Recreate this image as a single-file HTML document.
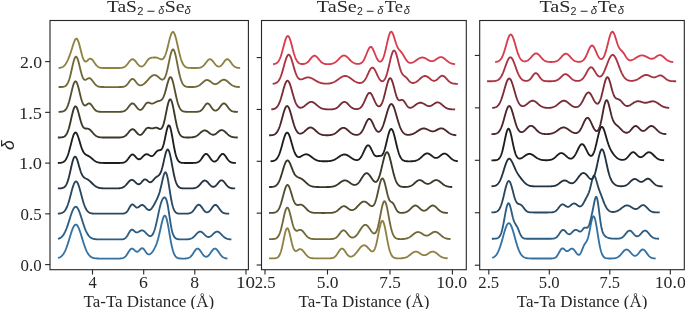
<!DOCTYPE html><html><head><meta charset="utf-8"><style>html,body{margin:0;padding:0;background:#fff;width:685px;height:309px;overflow:hidden}svg{display:block;will-change:transform}</style></head><body>
<svg width="685" height="309" viewBox="0 0 685 309">
<rect width="685" height="309" fill="#fff"/>
<path d="M59.00 257.71L59.50 257.50L60.00 257.25L60.50 256.96L61.00 256.61L61.50 256.20L62.00 255.72L62.50 255.17L63.00 254.54L63.50 253.82L64.00 253.02L64.50 252.12L65.00 251.12L65.50 250.03L66.00 248.83L66.50 247.55L67.00 246.17L67.50 244.72L68.00 243.19L68.50 241.60L69.00 239.98L69.50 238.32L70.00 236.67L70.50 235.03L71.00 233.43L71.50 231.90L72.00 230.45L72.50 229.12L73.00 227.93L73.50 226.89L74.00 226.03L74.50 225.36L75.00 224.90L75.50 224.65L76.00 224.62L76.50 224.81L77.00 225.21L77.50 225.82L78.00 226.63L78.50 227.62L79.00 228.77L79.50 230.07L80.00 231.48L80.50 232.99L81.00 234.58L81.50 236.21L82.00 237.86L82.50 239.51L83.00 241.15L83.50 242.75L84.00 244.29L84.50 245.77L85.00 247.17L85.50 248.48L86.00 249.70L86.50 250.82L87.00 251.85L87.50 252.77L88.00 253.61L88.50 254.35L89.00 255.00L89.50 255.57L90.00 256.07L90.50 256.50L91.00 256.86L91.50 257.18L92.00 257.44L92.50 257.66L93.00 257.84L93.50 257.99L94.00 258.11L94.50 258.21L95.00 258.29L95.50 258.36L96.00 258.41L96.50 258.45L97.00 258.48L97.50 258.51L98.00 258.53L98.50 258.54L99.00 258.55L99.50 258.56L100.00 258.57L100.50 258.57L101.00 258.58L101.50 258.58L102.00 258.58L102.50 258.58L103.00 258.58L103.50 258.58L104.00 258.58L104.50 258.58L105.00 258.58L105.50 258.58L106.00 258.58L106.50 258.58L107.00 258.58L107.50 258.58L108.00 258.58L108.50 258.58L109.00 258.58L109.50 258.58L110.00 258.58L110.50 258.58L111.00 258.58L111.50 258.58L112.00 258.58L112.50 258.58L113.00 258.58L113.50 258.58L114.00 258.58L114.50 258.58L115.00 258.58L115.50 258.58L116.00 258.58L116.50 258.58L117.00 258.58L117.50 258.58L118.00 258.58L118.50 258.57L119.00 258.56L119.50 258.55L120.00 258.52L120.50 258.49L121.00 258.45L121.50 258.38L122.00 258.30L122.50 258.18L123.00 258.02L123.50 257.81L124.00 257.54L124.50 257.21L125.00 256.80L125.50 256.32L126.00 255.76L126.50 255.11L127.00 254.41L127.50 253.64L128.00 252.84L128.50 252.04L129.00 251.25L129.50 250.51L130.00 249.86L130.50 249.32L131.00 248.92L131.50 248.68L132.00 248.59L132.50 248.67L133.00 248.90L133.50 249.24L134.00 249.68L134.50 250.16L135.00 250.64L135.50 251.08L136.00 251.43L136.50 251.67L137.00 251.77L137.50 251.71L138.00 251.49L138.50 251.14L139.00 250.68L139.50 250.16L140.00 249.61L140.50 249.10L141.00 248.67L141.50 248.36L142.00 248.22L142.50 248.25L143.00 248.47L143.50 248.87L144.00 249.40L144.50 250.06L145.00 250.78L145.50 251.52L146.00 252.24L146.50 252.90L147.00 253.46L147.50 253.91L148.00 254.23L148.50 254.41L149.00 254.45L149.50 254.35L150.00 254.14L150.50 253.82L151.00 253.39L151.50 252.88L152.00 252.30L152.50 251.64L153.00 250.92L153.50 250.14L154.00 249.30L154.50 248.39L155.00 247.40L155.50 246.32L156.00 245.15L156.50 243.86L157.00 242.45L157.50 240.90L158.00 239.21L158.50 237.36L159.00 235.38L159.50 233.27L160.00 231.05L160.50 228.78L161.00 226.48L161.50 224.24L162.00 222.11L162.50 220.16L163.00 218.48L163.50 217.12L164.00 216.16L164.50 215.65L165.00 215.62L165.50 216.08L166.00 217.05L166.50 218.48L167.00 220.35L167.50 222.59L168.00 225.14L168.50 227.90L169.00 230.80L169.50 233.76L170.00 236.69L170.50 239.54L171.00 242.23L171.50 244.74L172.00 247.01L172.50 249.04L173.00 250.82L173.50 252.36L174.00 253.66L174.50 254.74L175.00 255.62L175.50 256.33L176.00 256.90L176.50 257.34L177.00 257.67L177.50 257.93L178.00 258.12L178.50 258.26L179.00 258.36L179.50 258.43L180.00 258.48L180.50 258.52L181.00 258.54L181.50 258.55L182.00 258.56L182.50 258.57L183.00 258.57L183.50 258.57L184.00 258.56L184.50 258.55L185.00 258.54L185.50 258.51L186.00 258.48L186.50 258.43L187.00 258.36L187.50 258.26L188.00 258.13L188.50 257.97L189.00 257.75L189.50 257.48L190.00 257.15L190.50 256.75L191.00 256.27L191.50 255.72L192.00 255.10L192.50 254.41L193.00 253.67L193.50 252.90L194.00 252.12L194.50 251.35L195.00 250.62L195.50 249.97L196.00 249.42L196.50 248.99L197.00 248.72L197.50 248.60L198.00 248.66L198.50 248.87L199.00 249.24L199.50 249.75L200.00 250.36L200.50 251.06L201.00 251.81L201.50 252.58L202.00 253.34L202.50 254.06L203.00 254.72L203.50 255.31L204.00 255.81L204.50 256.21L205.00 256.50L205.50 256.69L206.00 256.76L206.50 256.72L207.00 256.58L207.50 256.33L208.00 255.98L208.50 255.53L209.00 255.00L209.50 254.40L210.00 253.73L210.50 253.02L211.00 252.29L211.50 251.57L212.00 250.87L212.50 250.22L213.00 249.66L213.50 249.20L214.00 248.86L214.50 248.66L215.00 248.60L215.50 248.70L216.00 248.94L216.50 249.32L217.00 249.82L217.50 250.41L218.00 251.08L218.50 251.79L219.00 252.53L219.50 253.27L220.00 253.99L220.50 254.67L221.00 255.30L221.50 255.87L222.00 256.38L222.50 256.81L223.00 257.19L223.50 257.50L224.00 257.75L224.50 257.96L225.00 258.12L225.50 258.24L226.00 258.34L226.50 258.41" fill="none" stroke="#3472a4" stroke-width="1.85" stroke-linejoin="round" stroke-linecap="square"/>
<path d="M58.80 238.60L59.30 238.41L59.80 238.17L60.30 237.90L60.80 237.57L61.30 237.18L61.80 236.73L62.30 236.21L62.80 235.62L63.30 234.95L63.80 234.19L64.30 233.34L64.80 232.40L65.30 231.37L65.80 230.24L66.30 229.03L66.80 227.72L67.30 226.34L67.80 224.89L68.30 223.38L68.80 221.83L69.30 220.25L69.80 218.66L70.30 217.08L70.80 215.54L71.30 214.06L71.80 212.66L72.30 211.36L72.80 210.18L73.30 209.15L73.80 208.29L74.30 207.60L74.80 207.11L75.30 206.83L75.80 206.75L76.30 206.87L76.80 207.21L77.30 207.75L77.80 208.48L78.30 209.38L78.80 210.45L79.30 211.65L79.80 212.98L80.30 214.40L80.80 215.90L81.30 217.45L81.80 219.03L82.30 220.62L82.80 222.20L83.30 223.74L83.80 225.24L84.30 226.67L84.80 228.04L85.30 229.32L85.80 230.52L86.30 231.62L86.80 232.63L87.30 233.55L87.80 234.38L88.30 235.12L88.80 235.77L89.30 236.34L89.80 236.84L90.30 237.28L90.80 237.65L91.30 237.97L91.80 238.23L92.30 238.46L92.80 238.65L93.30 238.80L93.80 238.93L94.30 239.03L94.80 239.12L95.30 239.18L95.80 239.24L96.30 239.28L96.80 239.31L97.30 239.34L97.80 239.36L98.30 239.38L98.80 239.39L99.30 239.40L99.80 239.40L100.30 239.41L100.80 239.41L101.30 239.41L101.80 239.42L102.30 239.42L102.80 239.42L103.30 239.42L103.80 239.42L104.30 239.42L104.80 239.42L105.30 239.42L105.80 239.42L106.30 239.42L106.80 239.42L107.30 239.42L107.80 239.42L108.30 239.42L108.80 239.42L109.30 239.42L109.80 239.42L110.30 239.42L110.80 239.42L111.30 239.42L111.80 239.42L112.30 239.42L112.80 239.42L113.30 239.42L113.80 239.42L114.30 239.42L114.80 239.42L115.30 239.42L115.80 239.42L116.30 239.42L116.80 239.42L117.30 239.42L117.80 239.42L118.30 239.42L118.80 239.42L119.30 239.42L119.80 239.41L120.30 239.41L120.80 239.40L121.30 239.38L121.80 239.35L122.30 239.30L122.80 239.23L123.30 239.13L123.80 238.99L124.30 238.79L124.80 238.52L125.30 238.17L125.80 237.72L126.30 237.18L126.80 236.53L127.30 235.78L127.80 234.95L128.30 234.07L128.80 233.17L129.30 232.29L129.80 231.48L130.30 230.78L130.80 230.23L131.30 229.86L131.80 229.69L132.30 229.70L132.80 229.87L133.30 230.19L133.80 230.59L134.30 231.03L134.80 231.47L135.30 231.85L135.80 232.15L136.30 232.34L136.80 232.42L137.30 232.38L137.80 232.24L138.30 232.02L138.80 231.74L139.30 231.43L139.80 231.12L140.30 230.85L140.80 230.62L141.30 230.46L141.80 230.38L142.30 230.39L142.80 230.50L143.30 230.71L143.80 231.00L144.30 231.37L144.80 231.81L145.30 232.30L145.80 232.82L146.30 233.36L146.80 233.90L147.30 234.42L147.80 234.90L148.30 235.32L148.80 235.67L149.30 235.94L149.80 236.10L150.30 236.14L150.80 236.06L151.30 235.83L151.80 235.44L152.30 234.88L152.80 234.14L153.30 233.21L153.80 232.09L154.30 230.76L154.80 229.23L155.30 227.51L155.80 225.60L156.30 223.53L156.80 221.33L157.30 219.02L157.80 216.65L158.30 214.26L158.80 211.90L159.30 209.62L159.80 207.46L160.30 205.47L160.80 203.68L161.30 202.11L161.80 200.77L162.30 199.65L162.80 198.76L163.30 198.08L163.80 197.62L164.30 197.39L164.80 197.42L165.30 197.75L165.80 198.45L166.30 199.57L166.80 201.15L167.30 203.20L167.80 205.71L168.30 208.60L168.80 211.78L169.30 215.12L169.80 218.48L170.30 221.74L170.80 224.78L171.30 227.52L171.80 229.91L172.30 231.94L172.80 233.61L173.30 234.97L173.80 236.03L174.30 236.87L174.80 237.51L175.30 238.00L175.80 238.37L176.30 238.64L176.80 238.85L177.30 239.01L177.80 239.12L178.30 239.21L178.80 239.27L179.30 239.32L179.80 239.35L180.30 239.37L180.80 239.39L181.30 239.40L181.80 239.41L182.30 239.41L182.80 239.41L183.30 239.41L183.80 239.41L184.30 239.41L184.80 239.41L185.30 239.40L185.80 239.39L186.30 239.38L186.80 239.36L187.30 239.33L187.80 239.29L188.30 239.24L188.80 239.18L189.30 239.09L189.80 238.98L190.30 238.84L190.80 238.67L191.30 238.47L191.80 238.22L192.30 237.93L192.80 237.59L193.30 237.20L193.80 236.77L194.30 236.30L194.80 235.79L195.30 235.26L195.80 234.71L196.30 234.16L196.80 233.63L197.30 233.13L197.80 232.67L198.30 232.28L198.80 231.97L199.30 231.75L199.80 231.62L200.30 231.60L200.80 231.68L201.30 231.87L201.80 232.14L202.30 232.49L202.80 232.91L203.30 233.38L203.80 233.88L204.30 234.39L204.80 234.89L205.30 235.37L205.80 235.80L206.30 236.19L206.80 236.51L207.30 236.75L207.80 236.92L208.30 237.00L208.80 236.99L209.30 236.91L209.80 236.74L210.30 236.49L210.80 236.17L211.30 235.80L211.80 235.37L212.30 234.91L212.80 234.42L213.30 233.93L213.80 233.45L214.30 232.99L214.80 232.58L215.30 232.22L215.80 231.94L216.30 231.74L216.80 231.63L217.30 231.61L217.80 231.69L218.30 231.87L218.80 232.13L219.30 232.47L219.80 232.87L220.30 233.33L220.80 233.82L221.30 234.34L221.80 234.87L222.30 235.39L222.80 235.90L223.30 236.38L223.80 236.83L224.30 237.24L224.80 237.61L225.30 237.93L225.80 238.21L226.30 238.45L226.80 238.65L227.30 238.82L227.80 238.96L228.30 239.07L228.80 239.16L229.30 239.22L229.80 239.28L230.30 239.32L230.50 239.33" fill="none" stroke="#2e5d82" stroke-width="1.85" stroke-linejoin="round" stroke-linecap="square"/>
<path d="M58.80 213.56L59.30 213.52L59.80 213.46L60.30 213.39L60.80 213.29L61.30 213.16L61.80 212.99L62.30 212.78L62.80 212.52L63.30 212.19L63.80 211.79L64.30 211.31L64.80 210.73L65.30 210.04L65.80 209.24L66.30 208.31L66.80 207.25L67.30 206.06L67.80 204.72L68.30 203.26L68.80 201.66L69.30 199.96L69.80 198.17L70.30 196.30L70.80 194.40L71.30 192.49L71.80 190.61L72.30 188.81L72.80 187.12L73.30 185.59L73.80 184.24L74.30 183.13L74.80 182.28L75.30 181.71L75.80 181.43L76.30 181.47L76.80 181.81L77.30 182.44L77.80 183.36L78.30 184.53L78.80 185.91L79.30 187.49L79.80 189.21L80.30 191.03L80.80 192.92L81.30 194.83L81.80 196.72L82.30 198.58L82.80 200.35L83.30 202.03L83.80 203.60L84.30 205.03L84.80 206.34L85.30 207.50L85.80 208.53L86.30 209.43L86.80 210.21L87.30 210.87L87.80 211.42L88.30 211.89L88.80 212.27L89.30 212.58L89.80 212.83L90.30 213.03L90.80 213.19L91.30 213.31L91.80 213.41L92.30 213.48L92.80 213.53L93.30 213.57L93.80 213.60L94.30 213.63L94.80 213.64L95.30 213.65L95.80 213.66L96.30 213.67L96.80 213.67L97.30 213.67L97.80 213.68L98.30 213.68L98.80 213.68L99.30 213.68L99.80 213.68L100.30 213.68L100.80 213.68L101.30 213.68L101.80 213.68L102.30 213.68L102.80 213.68L103.30 213.68L103.80 213.68L104.30 213.68L104.80 213.68L105.30 213.68L105.80 213.68L106.30 213.68L106.80 213.68L107.30 213.68L107.80 213.68L108.30 213.68L108.80 213.68L109.30 213.68L109.80 213.68L110.30 213.68L110.80 213.68L111.30 213.68L111.80 213.68L112.30 213.68L112.80 213.68L113.30 213.68L113.80 213.68L114.30 213.68L114.80 213.68L115.30 213.68L115.80 213.68L116.30 213.68L116.80 213.68L117.30 213.68L117.80 213.68L118.30 213.68L118.80 213.68L119.30 213.68L119.80 213.68L120.30 213.68L120.80 213.67L121.30 213.67L121.80 213.65L122.30 213.64L122.80 213.61L123.30 213.56L123.80 213.49L124.30 213.38L124.80 213.22L125.30 213.00L125.80 212.71L126.30 212.32L126.80 211.82L127.30 211.22L127.80 210.51L128.30 209.71L128.80 208.83L129.30 207.92L129.80 207.02L130.30 206.19L130.80 205.47L131.30 204.92L131.80 204.56L132.30 204.41L132.80 204.48L133.30 204.73L133.80 205.13L134.30 205.62L134.80 206.15L135.30 206.66L135.80 207.08L136.30 207.39L136.80 207.56L137.30 207.58L137.80 207.46L138.30 207.22L138.80 206.88L139.30 206.50L139.80 206.09L140.30 205.71L140.80 205.39L141.30 205.15L141.80 205.02L142.30 205.01L142.80 205.12L143.30 205.36L143.80 205.70L144.30 206.14L144.80 206.64L145.30 207.19L145.80 207.75L146.30 208.29L146.80 208.80L147.30 209.23L147.80 209.59L148.30 209.84L148.80 209.97L149.30 209.99L149.80 209.87L150.30 209.64L150.80 209.28L151.30 208.80L151.80 208.23L152.30 207.56L152.80 206.81L153.30 205.99L153.80 205.13L154.30 204.23L154.80 203.31L155.30 202.36L155.80 201.40L156.30 200.42L156.80 199.41L157.30 198.34L157.80 197.21L158.30 195.97L158.80 194.61L159.30 193.11L159.80 191.44L160.30 189.59L160.80 187.59L161.30 185.45L161.80 183.23L162.30 180.98L162.80 178.80L163.30 176.78L163.80 175.03L164.30 173.64L164.80 172.70L165.30 172.29L165.80 172.46L166.30 173.22L166.80 174.56L167.30 176.45L167.80 178.80L168.30 181.53L168.80 184.53L169.30 187.68L169.80 190.87L170.30 194.01L170.80 197.00L171.30 199.77L171.80 202.28L172.30 204.49L172.80 206.40L173.30 208.01L173.80 209.34L174.30 210.42L174.80 211.27L175.30 211.93L175.80 212.43L176.30 212.80L176.80 213.07L177.30 213.27L177.80 213.40L178.30 213.50L178.80 213.56L179.30 213.61L179.80 213.63L180.30 213.65L180.80 213.66L181.30 213.67L181.80 213.67L182.30 213.68L182.80 213.68L183.30 213.68L183.80 213.68L184.30 213.67L184.80 213.67L185.30 213.67L185.80 213.66L186.30 213.65L186.80 213.63L187.30 213.61L187.80 213.57L188.30 213.52L188.80 213.45L189.30 213.34L189.80 213.21L190.30 213.03L190.80 212.80L191.30 212.51L191.80 212.16L192.30 211.73L192.80 211.23L193.30 210.66L193.80 210.02L194.30 209.33L194.80 208.60L195.30 207.86L195.80 207.14L196.30 206.46L196.80 205.85L197.30 205.35L197.80 204.98L198.30 204.76L198.80 204.70L199.30 204.81L199.80 205.08L200.30 205.49L200.80 206.02L201.30 206.65L201.80 207.35L202.30 208.08L202.80 208.81L203.30 209.51L203.80 210.16L204.30 210.75L204.80 211.26L205.30 211.67L205.80 211.98L206.30 212.20L206.80 212.31L207.30 212.31L207.80 212.21L208.30 212.01L208.80 211.71L209.30 211.31L209.80 210.82L210.30 210.25L210.80 209.62L211.30 208.93L211.80 208.22L212.30 207.51L212.80 206.83L213.30 206.21L213.80 205.69L214.30 205.28L214.80 205.01L215.30 204.90L215.80 204.95L216.30 205.16L216.80 205.52L217.30 206.00L217.80 206.59L218.30 207.25L218.80 207.96L219.30 208.68L219.80 209.39L220.30 210.07L220.80 210.70L221.30 211.26L221.80 211.75L222.30 212.17L222.80 212.52L223.30 212.81L223.80 213.03L224.30 213.21L224.80 213.35L225.30 213.45L225.80 213.52L226.30 213.57L226.80 213.61L227.30 213.63L227.80 213.65L228.30 213.66" fill="none" stroke="#294861" stroke-width="1.85" stroke-linejoin="round" stroke-linecap="square"/>
<path d="M58.80 188.39L59.30 188.38L59.80 188.36L60.30 188.34L60.80 188.30L61.30 188.25L61.80 188.17L62.30 188.07L62.80 187.93L63.30 187.73L63.80 187.47L64.30 187.14L64.80 186.70L65.30 186.14L65.80 185.45L66.30 184.61L66.80 183.59L67.30 182.38L67.80 180.98L68.30 179.38L68.80 177.59L69.30 175.63L69.80 173.52L70.30 171.31L70.80 169.05L71.30 166.80L71.80 164.62L72.30 162.58L72.80 160.75L73.30 159.20L73.80 157.97L74.30 157.12L74.80 156.67L75.30 156.63L75.80 156.99L76.30 157.72L76.80 158.78L77.30 160.12L77.80 161.67L78.30 163.37L78.80 165.13L79.30 166.91L79.80 168.63L80.30 170.25L80.80 171.74L81.30 173.07L81.80 174.22L82.30 175.20L82.80 176.01L83.30 176.67L83.80 177.20L84.30 177.62L84.80 177.96L85.30 178.24L85.80 178.50L86.30 178.74L86.80 178.99L87.30 179.26L87.80 179.55L88.30 179.88L88.80 180.25L89.30 180.65L89.80 181.08L90.30 181.54L90.80 182.02L91.30 182.51L91.80 183.00L92.30 183.50L92.80 183.98L93.30 184.45L93.80 184.90L94.30 185.33L94.80 185.72L95.30 186.08L95.80 186.41L96.30 186.71L96.80 186.98L97.30 187.21L97.80 187.42L98.30 187.59L98.80 187.74L99.30 187.87L99.80 187.98L100.30 188.06L100.80 188.14L101.30 188.20L101.80 188.24L102.30 188.28L102.80 188.31L103.30 188.34L103.80 188.36L104.30 188.37L104.80 188.38L105.30 188.39L105.80 188.39L106.30 188.40L106.80 188.40L107.30 188.41L107.80 188.41L108.30 188.41L108.80 188.41L109.30 188.41L109.80 188.41L110.30 188.41L110.80 188.41L111.30 188.41L111.80 188.41L112.30 188.41L112.80 188.41L113.30 188.41L113.80 188.41L114.30 188.41L114.80 188.41L115.30 188.41L115.80 188.40L116.30 188.40L116.80 188.39L117.30 188.38L117.80 188.37L118.30 188.35L118.80 188.32L119.30 188.28L119.80 188.23L120.30 188.17L120.80 188.08L121.30 187.97L121.80 187.83L122.30 187.66L122.80 187.44L123.30 187.19L123.80 186.88L124.30 186.53L124.80 186.13L125.30 185.67L125.80 185.17L126.30 184.63L126.80 184.06L127.30 183.47L127.80 182.87L128.30 182.28L128.80 181.72L129.30 181.21L129.80 180.76L130.30 180.39L130.80 180.12L131.30 179.95L131.80 179.88L132.30 179.93L132.80 180.09L133.30 180.35L133.80 180.70L134.30 181.11L134.80 181.58L135.30 182.07L135.80 182.56L136.30 183.03L136.80 183.45L137.30 183.80L137.80 184.06L138.30 184.21L138.80 184.23L139.30 184.13L139.80 183.90L140.30 183.55L140.80 183.09L141.30 182.56L141.80 181.97L142.30 181.38L142.80 180.80L143.30 180.29L143.80 179.86L144.30 179.56L144.80 179.40L145.30 179.38L145.80 179.50L146.30 179.75L146.80 180.10L147.30 180.51L147.80 180.95L148.30 181.38L148.80 181.75L149.30 182.04L149.80 182.22L150.30 182.27L150.80 182.18L151.30 181.96L151.80 181.62L152.30 181.18L152.80 180.66L153.30 180.08L153.80 179.49L154.30 178.90L154.80 178.34L155.30 177.83L155.80 177.38L156.30 176.99L156.80 176.65L157.30 176.34L157.80 176.04L158.30 175.71L158.80 175.31L159.30 174.80L159.80 174.14L160.30 173.29L160.80 172.21L161.30 170.90L161.80 169.34L162.30 167.55L162.80 165.56L163.30 163.42L163.80 161.17L164.30 158.91L164.80 156.72L165.30 154.67L165.80 152.87L166.30 151.39L166.80 150.30L167.30 149.66L167.80 149.51L168.30 149.86L168.80 150.71L169.30 152.02L169.80 153.75L170.30 155.85L170.80 158.22L171.30 160.80L171.80 163.50L172.30 166.23L172.80 168.93L173.30 171.54L173.80 173.99L174.30 176.25L174.80 178.30L175.30 180.12L175.80 181.70L176.30 183.05L176.80 184.19L177.30 185.13L177.80 185.90L178.30 186.51L178.80 186.99L179.30 187.37L179.80 187.65L180.30 187.87L180.80 188.03L181.30 188.14L181.80 188.23L182.30 188.29L182.80 188.33L183.30 188.36L183.80 188.38L184.30 188.39L184.80 188.40L185.30 188.40L185.80 188.41L186.30 188.41L186.80 188.41L187.30 188.41L187.80 188.41L188.30 188.41L188.80 188.41L189.30 188.41L189.80 188.40L190.30 188.40L190.80 188.39L191.30 188.38L191.80 188.37L192.30 188.34L192.80 188.31L193.30 188.27L193.80 188.21L194.30 188.14L194.80 188.03L195.30 187.90L195.80 187.74L196.30 187.53L196.80 187.28L197.30 186.98L197.80 186.63L198.30 186.22L198.80 185.76L199.30 185.25L199.80 184.71L200.30 184.13L200.80 183.54L201.30 182.95L201.80 182.38L202.30 181.86L202.80 181.40L203.30 181.02L203.80 180.73L204.30 180.56L204.80 180.50L205.30 180.57L205.80 180.75L206.30 181.04L206.80 181.42L207.30 181.89L207.80 182.41L208.30 182.97L208.80 183.55L209.30 184.13L209.80 184.68L210.30 185.19L210.80 185.65L211.30 186.04L211.80 186.36L212.30 186.59L212.80 186.74L213.30 186.79L213.80 186.74L214.30 186.61L214.80 186.37L215.30 186.04L215.80 185.63L216.30 185.14L216.80 184.59L217.30 183.98L217.80 183.36L218.30 182.72L218.80 182.11L219.30 181.56L219.80 181.08L220.30 180.70L220.80 180.44L221.30 180.31L221.80 180.33L222.30 180.48L222.80 180.77L223.30 181.18L223.80 181.68L224.30 182.26L224.80 182.89L225.30 183.54L225.80 184.19L226.30 184.81L226.80 185.40L227.30 185.93L227.80 186.41L228.30 186.82L228.80 187.17L229.30 187.46L229.80 187.70L230.30 187.88L230.80 188.03L231.30 188.14L231.80 188.22L232.30 188.28L232.80 188.32L233.30 188.35L233.80 188.37L234.20 188.38" fill="none" stroke="#243340" stroke-width="1.85" stroke-linejoin="round" stroke-linecap="square"/>
<path d="M58.80 162.93L59.30 162.91L59.80 162.88L60.30 162.83L60.80 162.78L61.30 162.70L61.80 162.59L62.30 162.45L62.80 162.26L63.30 162.02L63.80 161.71L64.30 161.32L64.80 160.84L65.30 160.25L65.80 159.54L66.30 158.70L66.80 157.70L67.30 156.56L67.80 155.25L68.30 153.79L68.80 152.18L69.30 150.43L69.80 148.57L70.30 146.63L70.80 144.65L71.30 142.66L71.80 140.72L72.30 138.88L72.80 137.18L73.30 135.69L73.80 134.44L74.30 133.48L74.80 132.84L75.30 132.53L75.80 132.55L76.30 132.92L76.80 133.60L77.30 134.56L77.80 135.78L78.30 137.19L78.80 138.75L79.30 140.41L79.80 142.10L80.30 143.79L80.80 145.42L81.30 146.95L81.80 148.37L82.30 149.64L82.80 150.76L83.30 151.72L83.80 152.53L84.30 153.20L84.80 153.75L85.30 154.20L85.80 154.56L86.30 154.87L86.80 155.14L87.30 155.39L87.80 155.64L88.30 155.90L88.80 156.19L89.30 156.50L89.80 156.84L90.30 157.21L90.80 157.60L91.30 158.02L91.80 158.45L92.30 158.88L92.80 159.31L93.30 159.73L93.80 160.13L94.30 160.50L94.80 160.86L95.30 161.18L95.80 161.47L96.30 161.72L96.80 161.95L97.30 162.14L97.80 162.30L98.30 162.44L98.80 162.56L99.30 162.65L99.80 162.73L100.30 162.79L100.80 162.83L101.30 162.87L101.80 162.90L102.30 162.92L102.80 162.93L103.30 162.95L103.80 162.95L104.30 162.96L104.80 162.96L105.30 162.97L105.80 162.97L106.30 162.97L106.80 162.97L107.30 162.97L107.80 162.97L108.30 162.97L108.80 162.97L109.30 162.97L109.80 162.97L110.30 162.97L110.80 162.97L111.30 162.97L111.80 162.97L112.30 162.97L112.80 162.97L113.30 162.97L113.80 162.97L114.30 162.97L114.80 162.97L115.30 162.97L115.80 162.97L116.30 162.97L116.80 162.97L117.30 162.97L117.80 162.97L118.30 162.97L118.80 162.97L119.30 162.96L119.80 162.96L120.30 162.94L120.80 162.93L121.30 162.90L121.80 162.86L122.30 162.81L122.80 162.74L123.30 162.63L123.80 162.49L124.30 162.31L124.80 162.08L125.30 161.78L125.80 161.42L126.30 160.99L126.80 160.48L127.30 159.91L127.80 159.28L128.30 158.60L128.80 157.90L129.30 157.19L129.80 156.52L130.30 155.89L130.80 155.36L131.30 154.94L131.80 154.65L132.30 154.52L132.80 154.53L133.30 154.70L133.80 155.01L134.30 155.43L134.80 155.93L135.30 156.49L135.80 157.07L136.30 157.64L136.80 158.15L137.30 158.59L137.80 158.93L138.30 159.17L138.80 159.28L139.30 159.27L139.80 159.15L140.30 158.91L140.80 158.58L141.30 158.17L141.80 157.70L142.30 157.19L142.80 156.66L143.30 156.14L143.80 155.65L144.30 155.20L144.80 154.83L145.30 154.53L145.80 154.32L146.30 154.21L146.80 154.20L147.30 154.28L147.80 154.44L148.30 154.67L148.80 154.94L149.30 155.24L149.80 155.53L150.30 155.78L150.80 155.98L151.30 156.09L151.80 156.09L152.30 155.98L152.80 155.74L153.30 155.38L153.80 154.92L154.30 154.36L154.80 153.74L155.30 153.10L155.80 152.46L156.30 151.87L156.80 151.35L157.30 150.93L157.80 150.62L158.30 150.41L158.80 150.30L159.30 150.24L159.80 150.20L160.30 150.11L160.80 149.93L161.30 149.58L161.80 149.00L162.30 148.15L162.80 146.99L163.30 145.52L163.80 143.73L164.30 141.67L164.80 139.40L165.30 136.99L165.80 134.54L166.30 132.17L166.80 130.00L167.30 128.13L167.80 126.68L168.30 125.72L168.80 125.32L169.30 125.50L169.80 126.26L170.30 127.59L170.80 129.41L171.30 131.65L171.80 134.21L172.30 136.99L172.80 139.87L173.30 142.77L173.80 145.60L174.30 148.27L174.80 150.73L175.30 152.94L175.80 154.89L176.30 156.57L176.80 157.98L177.30 159.14L177.80 160.08L178.30 160.82L178.80 161.40L179.30 161.84L179.80 162.18L180.30 162.42L180.80 162.59L181.30 162.72L181.80 162.80L182.30 162.86L182.80 162.90L183.30 162.93L183.80 162.95L184.30 162.96L184.80 162.96L185.30 162.97L185.80 162.97L186.30 162.97L186.80 162.97L187.30 162.97L187.80 162.97L188.30 162.97L188.80 162.97L189.30 162.97L189.80 162.97L190.30 162.97L190.80 162.97L191.30 162.97L191.80 162.97L192.30 162.97L192.80 162.96L193.30 162.95L193.80 162.94L194.30 162.92L194.80 162.89L195.30 162.85L195.80 162.79L196.30 162.70L196.80 162.59L197.30 162.44L197.80 162.25L198.30 162.00L198.80 161.68L199.30 161.30L199.80 160.85L200.30 160.32L200.80 159.72L201.30 159.06L201.80 158.35L202.30 157.61L202.80 156.87L203.30 156.15L203.80 155.49L204.30 154.90L204.80 154.44L205.30 154.11L205.80 153.93L206.30 153.92L206.80 154.07L207.30 154.38L207.80 154.83L208.30 155.40L208.80 156.05L209.30 156.76L209.80 157.50L210.30 158.22L210.80 158.92L211.30 159.57L211.80 160.14L212.30 160.62L212.80 161.01L213.30 161.30L213.80 161.48L214.30 161.56L214.80 161.53L215.30 161.40L215.80 161.16L216.30 160.81L216.80 160.37L217.30 159.83L217.80 159.21L218.30 158.53L218.80 157.81L219.30 157.07L219.80 156.34L220.30 155.66L220.80 155.05L221.30 154.54L221.80 154.17L222.30 153.96L222.80 153.90L223.30 154.02L223.80 154.30L224.30 154.72L224.80 155.27L225.30 155.91L225.80 156.62L226.30 157.37L226.80 158.11L227.30 158.84L227.80 159.52L228.30 160.15L228.80 160.70L229.30 161.18L229.80 161.58L230.30 161.92L230.80 162.18L231.30 162.39L231.80 162.56L232.30 162.68L232.80 162.77L233.30 162.84L233.80 162.88L234.30 162.91L234.80 162.93L234.90 162.94" fill="none" stroke="#1e1e1e" stroke-width="1.85" stroke-linejoin="round" stroke-linecap="square"/>
<path d="M58.80 137.50L59.30 137.50L59.80 137.48L60.30 137.47L60.80 137.44L61.30 137.40L61.80 137.35L62.30 137.27L62.80 137.16L63.30 137.01L63.80 136.81L64.30 136.55L64.80 136.20L65.30 135.76L65.80 135.20L66.30 134.51L66.80 133.66L67.30 132.64L67.80 131.44L68.30 130.04L68.80 128.46L69.30 126.69L69.80 124.75L70.30 122.67L70.80 120.50L71.30 118.27L71.80 116.06L72.30 113.92L72.80 111.93L73.30 110.16L73.80 108.66L74.30 107.50L74.80 106.71L75.30 106.33L75.80 106.38L76.30 106.83L76.80 107.67L77.30 108.85L77.80 110.32L78.30 112.02L78.80 113.87L79.30 115.79L79.80 117.71L80.30 119.58L80.80 121.33L81.30 122.91L81.80 124.30L82.30 125.47L82.80 126.43L83.30 127.17L83.80 127.72L84.30 128.10L84.80 128.33L85.30 128.46L85.80 128.52L86.30 128.54L86.80 128.55L87.30 128.58L87.80 128.65L88.30 128.79L88.80 128.99L89.30 129.27L89.80 129.62L90.30 130.04L90.80 130.51L91.30 131.04L91.80 131.59L92.30 132.16L92.80 132.74L93.30 133.31L93.80 133.85L94.30 134.37L94.80 134.84L95.30 135.28L95.80 135.66L96.30 136.00L96.80 136.29L97.30 136.54L97.80 136.75L98.30 136.92L98.80 137.06L99.30 137.17L99.80 137.26L100.30 137.32L100.80 137.38L101.30 137.41L101.80 137.44L102.30 137.47L102.80 137.48L103.30 137.49L103.80 137.50L104.30 137.51L104.80 137.51L105.30 137.51L105.80 137.51L106.30 137.51L106.80 137.52L107.30 137.52L107.80 137.52L108.30 137.52L108.80 137.52L109.30 137.52L109.80 137.52L110.30 137.52L110.80 137.52L111.30 137.52L111.80 137.52L112.30 137.52L112.80 137.52L113.30 137.52L113.80 137.52L114.30 137.52L114.80 137.52L115.30 137.52L115.80 137.52L116.30 137.51L116.80 137.51L117.30 137.51L117.80 137.51L118.30 137.50L118.80 137.49L119.30 137.48L119.80 137.46L120.30 137.44L120.80 137.40L121.30 137.35L121.80 137.28L122.30 137.19L122.80 137.07L123.30 136.92L123.80 136.73L124.30 136.49L124.80 136.20L125.30 135.86L125.80 135.46L126.30 135.00L126.80 134.49L127.30 133.93L127.80 133.33L128.30 132.71L128.80 132.08L129.30 131.47L129.80 130.89L130.30 130.36L130.80 129.91L131.30 129.56L131.80 129.32L132.30 129.20L132.80 129.22L133.30 129.35L133.80 129.61L134.30 129.98L134.80 130.43L135.30 130.96L135.80 131.53L136.30 132.12L136.80 132.70L137.30 133.26L137.80 133.76L138.30 134.20L138.80 134.54L139.30 134.79L139.80 134.92L140.30 134.93L140.80 134.82L141.30 134.58L141.80 134.22L142.30 133.75L142.80 133.19L143.30 132.56L143.80 131.87L144.30 131.16L144.80 130.45L145.30 129.79L145.80 129.19L146.30 128.67L146.80 128.27L147.30 127.98L147.80 127.80L148.30 127.74L148.80 127.77L149.30 127.86L149.80 128.00L150.30 128.15L150.80 128.28L151.30 128.38L151.80 128.43L152.30 128.43L152.80 128.37L153.30 128.26L153.80 128.12L154.30 127.97L154.80 127.83L155.30 127.73L155.80 127.68L156.30 127.69L156.80 127.78L157.30 127.93L157.80 128.14L158.30 128.38L158.80 128.63L159.30 128.85L159.80 129.00L160.30 129.05L160.80 128.94L161.30 128.64L161.80 128.11L162.30 127.32L162.80 126.25L163.30 124.89L163.80 123.25L164.30 121.35L164.80 119.20L165.30 116.87L165.80 114.41L166.30 111.89L166.80 109.39L167.30 106.99L167.80 104.80L168.30 102.88L168.80 101.31L169.30 100.17L169.80 99.49L170.30 99.31L170.80 99.64L171.30 100.46L171.80 101.75L172.30 103.46L172.80 105.51L173.30 107.84L173.80 110.38L174.30 113.02L174.80 115.71L175.30 118.35L175.80 120.91L176.30 123.31L176.80 125.53L177.30 127.54L177.80 129.32L178.30 130.87L178.80 132.21L179.30 133.33L179.80 134.26L180.30 135.01L180.80 135.62L181.30 136.10L181.80 136.47L182.30 136.76L182.80 136.97L183.30 137.13L183.80 137.25L184.30 137.33L184.80 137.39L185.30 137.43L185.80 137.46L186.30 137.48L186.80 137.49L187.30 137.49L187.80 137.50L188.30 137.49L188.80 137.49L189.30 137.48L189.80 137.47L190.30 137.45L190.80 137.42L191.30 137.39L191.80 137.35L192.30 137.29L192.80 137.22L193.30 137.13L193.80 137.02L194.30 136.89L194.80 136.73L195.30 136.54L195.80 136.31L196.30 136.06L196.80 135.76L197.30 135.44L197.80 135.07L198.30 134.68L198.80 134.26L199.30 133.82L199.80 133.37L200.30 132.91L200.80 132.46L201.30 132.03L201.80 131.63L202.30 131.27L202.80 130.97L203.30 130.72L203.80 130.54L204.30 130.44L204.80 130.42L205.30 130.47L205.80 130.60L206.30 130.80L206.80 131.06L207.30 131.38L207.80 131.73L208.30 132.12L208.80 132.52L209.30 132.92L209.80 133.30L210.30 133.67L210.80 133.99L211.30 134.27L211.80 134.49L212.30 134.65L212.80 134.73L213.30 134.75L213.80 134.69L214.30 134.56L214.80 134.37L215.30 134.11L215.80 133.79L216.30 133.43L216.80 133.03L217.30 132.61L217.80 132.18L218.30 131.76L218.80 131.36L219.30 130.99L219.80 130.67L220.30 130.41L220.80 130.23L221.30 130.12L221.80 130.10L222.30 130.16L222.80 130.30L223.30 130.52L223.80 130.81L224.30 131.17L224.80 131.57L225.30 132.01L225.80 132.48L226.30 132.96L226.80 133.44L227.30 133.92L227.80 134.37L228.30 134.80L228.80 135.20L229.30 135.56L229.80 135.89L230.30 136.17L230.80 136.42L231.30 136.64L231.80 136.82L232.30 136.97L232.80 137.09L233.30 137.19L233.80 137.27L234.30 137.33L234.80 137.38L235.30 137.41L235.80 137.44L236.30 137.46L236.80 137.48" fill="none" stroke="#3a3727" stroke-width="1.85" stroke-linejoin="round" stroke-linecap="square"/>
<path d="M59.50 111.81L60.00 111.80L60.50 111.77L61.00 111.74L61.50 111.69L62.00 111.62L62.50 111.52L63.00 111.39L63.50 111.21L64.00 110.97L64.50 110.66L65.00 110.27L65.50 109.77L66.00 109.15L66.50 108.38L67.00 107.47L67.50 106.38L68.00 105.11L68.50 103.66L69.00 102.03L69.50 100.24L70.00 98.30L70.50 96.24L71.00 94.12L71.50 91.97L72.00 89.86L72.50 87.86L73.00 86.02L73.50 84.41L74.00 83.09L74.50 82.11L75.00 81.50L75.50 81.30L76.00 81.51L76.50 82.11L77.00 83.09L77.50 84.41L78.00 86.01L78.50 87.83L79.00 89.81L79.50 91.88L80.00 93.96L80.50 95.99L81.00 97.92L81.50 99.68L82.00 101.25L82.50 102.59L83.00 103.67L83.50 104.50L84.00 105.06L84.50 105.39L85.00 105.49L85.50 105.40L86.00 105.17L86.50 104.83L87.00 104.45L87.50 104.07L88.00 103.75L88.50 103.51L89.00 103.41L89.50 103.45L90.00 103.65L90.50 104.01L91.00 104.50L91.50 105.10L92.00 105.78L92.50 106.51L93.00 107.25L93.50 107.97L94.00 108.64L94.50 109.26L95.00 109.80L95.50 110.26L96.00 110.65L96.50 110.96L97.00 111.20L97.50 111.39L98.00 111.53L98.50 111.63L99.00 111.70L99.50 111.75L100.00 111.78L100.50 111.81L101.00 111.82L101.50 111.83L102.00 111.84L102.50 111.84L103.00 111.84L103.50 111.84L104.00 111.84L104.50 111.84L105.00 111.84L105.50 111.84L106.00 111.84L106.50 111.84L107.00 111.84L107.50 111.84L108.00 111.84L108.50 111.84L109.00 111.84L109.50 111.84L110.00 111.84L110.50 111.84L111.00 111.84L111.50 111.84L112.00 111.84L112.50 111.84L113.00 111.84L113.50 111.84L114.00 111.84L114.50 111.84L115.00 111.84L115.50 111.84L116.00 111.84L116.50 111.84L117.00 111.84L117.50 111.84L118.00 111.84L118.50 111.83L119.00 111.83L119.50 111.82L120.00 111.81L120.50 111.79L121.00 111.76L121.50 111.72L122.00 111.66L122.50 111.58L123.00 111.47L123.50 111.33L124.00 111.15L124.50 110.92L125.00 110.64L125.50 110.30L126.00 109.89L126.50 109.42L127.00 108.88L127.50 108.29L128.00 107.65L128.50 106.99L129.00 106.31L129.50 105.66L130.00 105.04L130.50 104.49L131.00 104.03L131.50 103.69L132.00 103.47L132.50 103.40L133.00 103.48L133.50 103.70L134.00 104.04L134.50 104.50L135.00 105.05L135.50 105.67L136.00 106.32L136.50 106.97L137.00 107.61L137.50 108.20L138.00 108.73L138.50 109.18L139.00 109.53L139.50 109.77L140.00 109.88L140.50 109.88L141.00 109.74L141.50 109.47L142.00 109.07L142.50 108.55L143.00 107.93L143.50 107.23L144.00 106.47L144.50 105.70L145.00 104.95L145.50 104.26L146.00 103.65L146.50 103.17L147.00 102.82L147.50 102.61L148.00 102.53L148.50 102.57L149.00 102.70L149.50 102.89L150.00 103.10L150.50 103.29L151.00 103.46L151.50 103.56L152.00 103.59L152.50 103.55L153.00 103.44L153.50 103.27L154.00 103.05L154.50 102.79L155.00 102.52L155.50 102.25L156.00 101.99L156.50 101.76L157.00 101.55L157.50 101.37L158.00 101.22L158.50 101.09L159.00 100.97L159.50 100.84L160.00 100.69L160.50 100.49L161.00 100.21L161.50 99.84L162.00 99.34L162.50 98.69L163.00 97.87L163.50 96.87L164.00 95.68L164.50 94.29L165.00 92.73L165.50 91.01L166.00 89.18L166.50 87.27L167.00 85.35L167.50 83.48L168.00 81.74L168.50 80.18L169.00 78.89L169.50 77.91L170.00 77.30L170.50 77.09L171.00 77.31L171.50 77.94L172.00 78.99L172.50 80.40L173.00 82.14L173.50 84.15L174.00 86.35L174.50 88.69L175.00 91.09L175.50 93.48L176.00 95.81L176.50 98.03L177.00 100.10L177.50 102.00L178.00 103.69L178.50 105.19L179.00 106.48L179.50 107.58L180.00 108.50L180.50 109.25L181.00 109.86L181.50 110.35L182.00 110.73L182.50 111.03L183.00 111.25L183.50 111.42L184.00 111.55L184.50 111.64L185.00 111.70L185.50 111.75L186.00 111.78L186.50 111.80L187.00 111.82L187.50 111.83L188.00 111.83L188.50 111.84L189.00 111.84L189.50 111.84L190.00 111.84L190.50 111.84L191.00 111.84L191.50 111.84L192.00 111.84L192.50 111.84L193.00 111.84L193.50 111.84L194.00 111.84L194.50 111.84L195.00 111.83L195.50 111.83L196.00 111.81L196.50 111.80L197.00 111.77L197.50 111.73L198.00 111.67L198.50 111.58L199.00 111.47L199.50 111.31L200.00 111.10L200.50 110.83L201.00 110.48L201.50 110.07L202.00 109.57L202.50 108.99L203.00 108.35L203.50 107.65L204.00 106.91L204.50 106.17L205.00 105.45L205.50 104.79L206.00 104.23L206.50 103.80L207.00 103.52L207.50 103.41L208.00 103.48L208.50 103.72L209.00 104.12L209.50 104.66L210.00 105.30L210.50 106.00L211.00 106.74L211.50 107.46L212.00 108.16L212.50 108.79L213.00 109.35L213.50 109.81L214.00 110.17L214.50 110.43L215.00 110.58L215.50 110.64L216.00 110.58L216.50 110.43L217.00 110.18L217.50 109.84L218.00 109.41L218.50 108.90L219.00 108.31L219.50 107.67L220.00 107.00L220.50 106.31L221.00 105.63L221.50 105.00L222.00 104.44L222.50 103.98L223.00 103.64L223.50 103.45L224.00 103.40L224.50 103.51L225.00 103.77L225.50 104.16L226.00 104.67L226.50 105.26L227.00 105.92L227.50 106.61L228.00 107.30L228.50 107.97L229.00 108.60L229.50 109.18L230.00 109.70L230.50 110.15L231.00 110.52L231.50 110.84L232.00 111.09L232.50 111.29L233.00 111.44L233.50 111.56L234.00 111.65L234.50 111.71L235.00 111.75L235.50 111.78L236.00 111.80L236.50 111.82L237.00 111.83" fill="none" stroke="#565030" stroke-width="1.85" stroke-linejoin="round" stroke-linecap="square"/>
<path d="M59.50 87.04L60.00 87.04L60.50 87.03L61.00 87.01L61.50 86.99L62.00 86.96L62.50 86.92L63.00 86.86L63.50 86.77L64.00 86.65L64.50 86.48L65.00 86.25L65.50 85.94L66.00 85.54L66.50 85.03L67.00 84.38L67.50 83.58L68.00 82.60L68.50 81.44L69.00 80.07L69.50 78.50L70.00 76.74L70.50 74.79L71.00 72.70L71.50 70.50L72.00 68.25L72.50 66.02L73.00 63.86L73.50 61.87L74.00 60.12L74.50 58.67L75.00 57.59L75.50 56.93L76.00 56.70L76.50 56.93L77.00 57.60L77.50 58.67L78.00 60.09L78.50 61.81L79.00 63.74L79.50 65.81L80.00 67.92L80.50 70.01L81.00 72.00L81.50 73.82L82.00 75.44L82.50 76.82L83.00 77.93L83.50 78.78L84.00 79.37L84.50 79.71L85.00 79.84L85.50 79.80L86.00 79.62L86.50 79.36L87.00 79.05L87.50 78.74L88.00 78.47L88.50 78.27L89.00 78.18L89.50 78.20L90.00 78.36L90.50 78.64L91.00 79.03L91.50 79.54L92.00 80.12L92.50 80.77L93.00 81.45L93.50 82.13L94.00 82.81L94.50 83.45L95.00 84.05L95.50 84.59L96.00 85.07L96.50 85.48L97.00 85.82L97.50 86.11L98.00 86.34L98.50 86.52L99.00 86.67L99.50 86.77L100.00 86.86L100.50 86.92L101.00 86.96L101.50 86.99L102.00 87.01L102.50 87.02L103.00 87.03L103.50 87.04L104.00 87.04L104.50 87.05L105.00 87.05L105.50 87.05L106.00 87.05L106.50 87.05L107.00 87.05L107.50 87.05L108.00 87.05L108.50 87.05L109.00 87.05L109.50 87.05L110.00 87.05L110.50 87.05L111.00 87.05L111.50 87.05L112.00 87.05L112.50 87.05L113.00 87.05L113.50 87.05L114.00 87.05L114.50 87.05L115.00 87.05L115.50 87.05L116.00 87.05L116.50 87.05L117.00 87.05L117.50 87.05L118.00 87.05L118.50 87.05L119.00 87.04L119.50 87.04L120.00 87.04L120.50 87.03L121.00 87.01L121.50 86.99L122.00 86.96L122.50 86.91L123.00 86.85L123.50 86.76L124.00 86.63L124.50 86.46L125.00 86.24L125.50 85.96L126.00 85.61L126.50 85.19L127.00 84.69L127.50 84.13L128.00 83.50L128.50 82.82L129.00 82.12L129.50 81.41L130.00 80.74L130.50 80.13L131.00 79.62L131.50 79.22L132.00 78.98L132.50 78.89L133.00 78.97L133.50 79.21L134.00 79.59L134.50 80.08L135.00 80.67L135.50 81.31L136.00 81.98L136.50 82.63L137.00 83.25L137.50 83.80L138.00 84.28L138.50 84.68L139.00 84.98L139.50 85.19L140.00 85.31L140.50 85.35L141.00 85.31L141.50 85.20L142.00 85.03L142.50 84.80L143.00 84.52L143.50 84.20L144.00 83.83L144.50 83.42L145.00 82.98L145.50 82.50L146.00 82.00L146.50 81.48L147.00 80.93L147.50 80.37L148.00 79.81L148.50 79.24L149.00 78.68L149.50 78.14L150.00 77.62L150.50 77.12L151.00 76.67L151.50 76.26L152.00 75.90L152.50 75.60L153.00 75.37L153.50 75.20L154.00 75.10L154.50 75.07L155.00 75.11L155.50 75.23L156.00 75.41L156.50 75.66L157.00 75.96L157.50 76.31L158.00 76.70L158.50 77.12L159.00 77.56L159.50 78.00L160.00 78.42L160.50 78.81L161.00 79.15L161.50 79.42L162.00 79.59L162.50 79.64L163.00 79.54L163.50 79.27L164.00 78.80L164.50 78.11L165.00 77.19L165.50 76.03L166.00 74.61L166.50 72.94L167.00 71.05L167.50 68.95L168.00 66.68L168.50 64.31L169.00 61.88L169.50 59.47L170.00 57.16L170.50 55.02L171.00 53.14L171.50 51.59L172.00 50.42L172.50 49.69L173.00 49.43L173.50 49.66L174.00 50.35L174.50 51.50L175.00 53.06L175.50 54.97L176.00 57.17L176.50 59.58L177.00 62.12L177.50 64.72L178.00 67.31L178.50 69.83L179.00 72.22L179.50 74.45L180.00 76.48L180.50 78.30L181.00 79.90L181.50 81.28L182.00 82.46L182.50 83.45L183.00 84.26L183.50 84.91L184.00 85.44L184.50 85.85L185.00 86.16L185.50 86.41L186.00 86.59L186.50 86.72L187.00 86.82L187.50 86.89L188.00 86.94L188.50 86.98L189.00 87.00L189.50 87.01L190.00 87.02L190.50 87.03L191.00 87.02L191.50 87.02L192.00 87.01L192.50 87.00L193.00 86.98L193.50 86.96L194.00 86.92L194.50 86.88L195.00 86.82L195.50 86.75L196.00 86.65L196.50 86.54L197.00 86.40L197.50 86.23L198.00 86.03L198.50 85.79L199.00 85.52L199.50 85.21L200.00 84.87L200.50 84.49L201.00 84.08L201.50 83.64L202.00 83.19L202.50 82.73L203.00 82.26L203.50 81.82L204.00 81.39L204.50 81.01L205.00 80.67L205.50 80.40L206.00 80.19L206.50 80.06L207.00 80.01L207.50 80.03L208.00 80.14L208.50 80.32L209.00 80.57L209.50 80.87L210.00 81.22L210.50 81.59L211.00 81.98L211.50 82.38L212.00 82.75L212.50 83.10L213.00 83.41L213.50 83.68L214.00 83.88L214.50 84.02L215.00 84.09L215.50 84.08L216.00 84.01L216.50 83.87L217.00 83.67L217.50 83.41L218.00 83.10L218.50 82.75L219.00 82.37L219.50 81.98L220.00 81.58L220.50 81.19L221.00 80.83L221.50 80.49L222.00 80.21L222.50 79.98L223.00 79.82L223.50 79.72L224.00 79.70L224.50 79.75L225.00 79.88L225.50 80.08L226.00 80.35L226.50 80.67L227.00 81.03L227.50 81.44L228.00 81.87L228.50 82.32L229.00 82.77L229.50 83.23L230.00 83.66L230.50 84.08L231.00 84.48L231.50 84.84L232.00 85.18L232.50 85.48L233.00 85.74L233.50 85.97L234.00 86.17L234.50 86.34L235.00 86.49L235.50 86.60L236.00 86.70L236.50 86.78L237.00 86.84L237.50 86.89L238.00 86.93L238.50 86.96L238.80 86.98" fill="none" stroke="#726939" stroke-width="1.85" stroke-linejoin="round" stroke-linecap="square"/>
<path d="M59.50 67.87L60.00 67.81L60.50 67.72L61.00 67.61L61.50 67.46L62.00 67.28L62.50 67.04L63.00 66.74L63.50 66.38L64.00 65.95L64.50 65.45L65.00 64.86L65.50 64.19L66.00 63.43L66.50 62.59L67.00 61.67L67.50 60.67L68.00 59.60L68.50 58.44L69.00 57.21L69.50 55.91L70.00 54.53L70.50 53.08L71.00 51.57L71.50 50.01L72.00 48.41L72.50 46.80L73.00 45.21L73.50 43.69L74.00 42.27L74.50 41.02L75.00 39.99L75.50 39.22L76.00 38.77L76.50 38.66L77.00 38.92L77.50 39.55L78.00 40.54L78.50 41.85L79.00 43.44L79.50 45.25L80.00 47.20L80.50 49.24L81.00 51.27L81.50 53.24L82.00 55.08L82.50 56.74L83.00 58.17L83.50 59.36L84.00 60.29L84.50 60.94L85.00 61.35L85.50 61.51L86.00 61.47L86.50 61.26L87.00 60.93L87.50 60.51L88.00 60.05L88.50 59.61L89.00 59.22L89.50 58.92L90.00 58.74L90.50 58.70L91.00 58.81L91.50 59.06L92.00 59.46L92.50 59.97L93.00 60.59L93.50 61.28L94.00 62.01L94.50 62.75L95.00 63.49L95.50 64.19L96.00 64.83L96.50 65.42L97.00 65.93L97.50 66.38L98.00 66.75L98.50 67.05L99.00 67.29L99.50 67.49L100.00 67.63L100.50 67.74L101.00 67.83L101.50 67.89L102.00 67.93L102.50 67.96L103.00 67.98L103.50 67.99L104.00 68.00L104.50 68.00L105.00 68.01L105.50 68.01L106.00 68.01L106.50 68.01L107.00 68.01L107.50 68.01L108.00 68.01L108.50 68.01L109.00 68.01L109.50 68.01L110.00 68.01L110.50 68.01L111.00 68.01L111.50 68.01L112.00 68.01L112.50 68.01L113.00 68.01L113.50 68.01L114.00 68.01L114.50 68.01L115.00 68.01L115.50 68.01L116.00 68.01L116.50 68.01L117.00 68.01L117.50 68.01L118.00 68.00L118.50 68.00L119.00 67.99L119.50 67.97L120.00 67.95L120.50 67.92L121.00 67.88L121.50 67.82L122.00 67.75L122.50 67.64L123.00 67.51L123.50 67.34L124.00 67.13L124.50 66.86L125.00 66.54L125.50 66.16L126.00 65.72L126.50 65.22L127.00 64.66L127.50 64.05L128.00 63.41L128.50 62.74L129.00 62.07L129.50 61.42L130.00 60.82L130.50 60.28L131.00 59.83L131.50 59.49L132.00 59.28L132.50 59.20L133.00 59.26L133.50 59.45L134.00 59.76L134.50 60.19L135.00 60.71L135.50 61.30L136.00 61.94L136.50 62.59L137.00 63.24L137.50 63.87L138.00 64.45L138.50 64.98L139.00 65.45L139.50 65.83L140.00 66.13L140.50 66.34L141.00 66.47L141.50 66.50L142.00 66.43L142.50 66.26L143.00 65.99L143.50 65.62L144.00 65.15L144.50 64.60L145.00 63.96L145.50 63.27L146.00 62.54L146.50 61.80L147.00 61.08L147.50 60.39L148.00 59.78L148.50 59.24L149.00 58.79L149.50 58.44L150.00 58.17L150.50 57.97L151.00 57.84L151.50 57.74L152.00 57.68L152.50 57.62L153.00 57.57L153.50 57.53L154.00 57.49L154.50 57.46L155.00 57.44L155.50 57.46L156.00 57.50L156.50 57.58L157.00 57.70L157.50 57.85L158.00 58.04L158.50 58.26L159.00 58.49L159.50 58.73L160.00 58.95L160.50 59.14L161.00 59.27L161.50 59.33L162.00 59.28L162.50 59.12L163.00 58.81L163.50 58.34L164.00 57.68L164.50 56.83L165.00 55.78L165.50 54.53L166.00 53.08L166.50 51.45L167.00 49.66L167.50 47.73L168.00 45.72L168.50 43.65L169.00 41.60L169.50 39.61L170.00 37.74L170.50 36.04L171.00 34.58L171.50 33.41L172.00 32.55L172.50 32.05L173.00 31.93L173.50 32.19L174.00 32.82L174.50 33.81L175.00 35.13L175.50 36.74L176.00 38.58L176.50 40.62L177.00 42.79L177.50 45.04L178.00 47.32L178.50 49.57L179.00 51.75L179.50 53.83L180.00 55.78L180.50 57.58L181.00 59.20L181.50 60.66L182.00 61.94L182.50 63.05L183.00 64.00L183.50 64.81L184.00 65.48L184.50 66.03L185.00 66.48L185.50 66.84L186.00 67.13L186.50 67.35L187.00 67.52L187.50 67.65L188.00 67.75L188.50 67.83L189.00 67.88L189.50 67.92L190.00 67.95L190.50 67.97L191.00 67.98L191.50 67.99L192.00 68.00L192.50 68.00L193.00 68.01L193.50 68.01L194.00 68.01L194.50 68.01L195.00 68.01L195.50 68.00L196.00 67.99L196.50 67.98L197.00 67.97L197.50 67.95L198.00 67.92L198.50 67.87L199.00 67.81L199.50 67.73L200.00 67.62L200.50 67.49L201.00 67.31L201.50 67.09L202.00 66.81L202.50 66.48L203.00 66.10L203.50 65.65L204.00 65.13L204.50 64.57L205.00 63.96L205.50 63.31L206.00 62.64L206.50 61.98L207.00 61.33L207.50 60.74L208.00 60.21L208.50 59.78L209.00 59.46L209.50 59.27L210.00 59.20L210.50 59.28L211.00 59.49L211.50 59.83L212.00 60.27L212.50 60.80L213.00 61.40L213.50 62.04L214.00 62.70L214.50 63.36L215.00 63.99L215.50 64.57L216.00 65.10L216.50 65.56L217.00 65.93L217.50 66.23L218.00 66.43L218.50 66.54L219.00 66.55L219.50 66.47L220.00 66.29L220.50 66.01L221.00 65.64L221.50 65.19L222.00 64.65L222.50 64.04L223.00 63.38L223.50 62.69L224.00 62.00L224.50 61.32L225.00 60.70L225.50 60.15L226.00 59.71L226.50 59.40L227.00 59.23L227.50 59.21L228.00 59.35L228.50 59.63L229.00 60.04L229.50 60.57L230.00 61.18L230.50 61.85L231.00 62.55L231.50 63.26L232.00 63.95L232.50 64.59L233.00 65.19L233.50 65.72L234.00 66.19L234.50 66.58L235.00 66.91L235.50 67.18L236.00 67.39L236.50 67.56L237.00 67.69L237.50 67.78L238.00 67.86L238.50 67.91L239.00 67.94L239.20 67.95" fill="none" stroke="#8e8242" stroke-width="1.85" stroke-linejoin="round" stroke-linecap="square"/>
<rect x="50.00" y="20.50" width="198.40" height="249.20" fill="none" stroke="#262626" stroke-width="1.11"/>
<line x1="92.50" y1="269.70" x2="92.50" y2="274.56" stroke="#262626" stroke-width="1.11"/>
<line x1="143.70" y1="269.70" x2="143.70" y2="274.56" stroke="#262626" stroke-width="1.11"/>
<line x1="194.80" y1="269.70" x2="194.80" y2="274.56" stroke="#262626" stroke-width="1.11"/>
<line x1="246.00" y1="269.70" x2="246.00" y2="274.56" stroke="#262626" stroke-width="1.11"/>
<line x1="45.14" y1="264.60" x2="50.00" y2="264.60" stroke="#262626" stroke-width="1.11"/>
<line x1="45.14" y1="213.85" x2="50.00" y2="213.85" stroke="#262626" stroke-width="1.11"/>
<line x1="45.14" y1="163.10" x2="50.00" y2="163.10" stroke="#262626" stroke-width="1.11"/>
<line x1="45.14" y1="112.35" x2="50.00" y2="112.35" stroke="#262626" stroke-width="1.11"/>
<line x1="45.14" y1="61.60" x2="50.00" y2="61.60" stroke="#262626" stroke-width="1.11"/>
<path d="M270.00 258.38L270.50 258.38L271.00 258.38L271.50 258.38L272.00 258.38L272.50 258.37L273.00 258.37L273.50 258.35L274.00 258.33L274.50 258.31L275.00 258.26L275.50 258.19L276.00 258.09L276.50 257.95L277.00 257.75L277.50 257.46L278.00 257.08L278.50 256.57L279.00 255.91L279.50 255.07L280.00 254.02L280.50 252.75L281.00 251.23L281.50 249.47L282.00 247.48L282.50 245.28L283.00 242.93L283.50 240.48L284.00 238.02L284.50 235.64L285.00 233.44L285.50 231.52L286.00 229.98L286.50 228.89L287.00 228.30L287.50 228.25L288.00 228.73L288.50 229.72L289.00 231.14L289.50 232.93L290.00 234.99L290.50 237.20L291.00 239.46L291.50 241.67L292.00 243.75L292.50 245.62L293.00 247.23L293.50 248.56L294.00 249.59L294.50 250.33L295.00 250.79L295.50 251.02L296.00 251.04L296.50 250.91L297.00 250.66L297.50 250.35L298.00 250.02L298.50 249.70L299.00 249.43L299.50 249.23L300.00 249.14L300.50 249.15L301.00 249.28L301.50 249.52L302.00 249.87L302.50 250.31L303.00 250.84L303.50 251.43L304.00 252.06L304.50 252.71L305.00 253.36L305.50 254.00L306.00 254.61L306.50 255.18L307.00 255.70L307.50 256.17L308.00 256.58L308.50 256.93L309.00 257.23L309.50 257.49L310.00 257.69L310.50 257.86L311.00 257.99L311.50 258.09L312.00 258.17L312.50 258.23L313.00 258.27L313.50 258.31L314.00 258.33L314.50 258.35L315.00 258.36L315.50 258.37L316.00 258.37L316.50 258.38L317.00 258.38L317.50 258.38L318.00 258.38L318.50 258.38L319.00 258.38L319.50 258.38L320.00 258.38L320.50 258.38L321.00 258.38L321.50 258.38L322.00 258.38L322.50 258.38L323.00 258.38L323.50 258.38L324.00 258.38L324.50 258.38L325.00 258.38L325.50 258.38L326.00 258.38L326.50 258.38L327.00 258.38L327.50 258.38L328.00 258.37L328.50 258.37L329.00 258.36L329.50 258.34L330.00 258.32L330.50 258.29L331.00 258.25L331.50 258.18L332.00 258.09L332.50 257.98L333.00 257.82L333.50 257.62L334.00 257.36L334.50 257.03L335.00 256.64L335.50 256.17L336.00 255.63L336.50 255.01L337.00 254.33L337.50 253.59L338.00 252.81L338.50 252.03L339.00 251.26L339.50 250.53L340.00 249.88L340.50 249.34L341.00 248.94L341.50 248.68L342.00 248.60L342.50 248.68L343.00 248.93L343.50 249.33L344.00 249.86L344.50 250.50L345.00 251.21L345.50 251.95L346.00 252.71L346.50 253.45L347.00 254.14L347.50 254.76L348.00 255.31L348.50 255.76L349.00 256.13L349.50 256.39L350.00 256.57L350.50 256.65L351.00 256.65L351.50 256.57L352.00 256.42L352.50 256.20L353.00 255.92L353.50 255.58L354.00 255.18L354.50 254.74L355.00 254.24L355.50 253.70L356.00 253.13L356.50 252.52L357.00 251.88L357.50 251.23L358.00 250.56L358.50 249.90L359.00 249.24L359.50 248.59L360.00 247.98L360.50 247.41L361.00 246.88L361.50 246.42L362.00 246.02L362.50 245.71L363.00 245.47L363.50 245.33L364.00 245.28L364.50 245.31L365.00 245.44L365.50 245.66L366.00 245.96L366.50 246.34L367.00 246.78L367.50 247.27L368.00 247.81L368.50 248.37L369.00 248.94L369.50 249.50L370.00 250.04L370.50 250.52L371.00 250.93L371.50 251.24L372.00 251.42L372.50 251.44L373.00 251.28L373.50 250.91L374.00 250.30L374.50 249.43L375.00 248.29L375.50 246.86L376.00 245.15L376.50 243.17L377.00 240.97L377.50 238.57L378.00 236.04L378.50 233.44L379.00 230.88L379.50 228.42L380.00 226.18L380.50 224.23L381.00 222.66L381.50 221.54L382.00 220.92L382.50 220.83L383.00 221.28L383.50 222.25L384.00 223.70L384.50 225.57L385.00 227.79L385.50 230.26L386.00 232.92L386.50 235.65L387.00 238.39L387.50 241.05L388.00 243.57L388.50 245.91L389.00 248.03L389.50 249.92L390.00 251.56L390.50 252.96L391.00 254.14L391.50 255.11L392.00 255.89L392.50 256.52L393.00 257.01L393.50 257.38L394.00 257.66L394.50 257.87L395.00 258.03L395.50 258.14L396.00 258.22L396.50 258.27L397.00 258.30L397.50 258.33L398.00 258.34L398.50 258.34L399.00 258.34L399.50 258.34L400.00 258.33L400.50 258.31L401.00 258.29L401.50 258.25L402.00 258.22L402.50 258.16L403.00 258.10L403.50 258.02L404.00 257.93L404.50 257.81L405.00 257.68L405.50 257.52L406.00 257.33L406.50 257.12L407.00 256.87L407.50 256.60L408.00 256.29L408.50 255.96L409.00 255.61L409.50 255.23L410.00 254.84L410.50 254.44L411.00 254.04L411.50 253.64L412.00 253.25L412.50 252.89L413.00 252.56L413.50 252.26L414.00 252.02L414.50 251.83L415.00 251.70L415.50 251.63L416.00 251.63L416.50 251.68L417.00 251.80L417.50 251.98L418.00 252.20L418.50 252.47L419.00 252.76L419.50 253.08L420.00 253.41L420.50 253.74L421.00 254.05L421.50 254.34L422.00 254.60L422.50 254.82L423.00 254.99L423.50 255.11L424.00 255.17L424.50 255.17L425.00 255.12L425.50 255.00L426.00 254.83L426.50 254.61L427.00 254.35L427.50 254.06L428.00 253.74L428.50 253.41L429.00 253.08L429.50 252.76L430.00 252.45L430.50 252.18L431.00 251.95L431.50 251.78L432.00 251.65L432.50 251.59L433.00 251.60L433.50 251.67L434.00 251.80L434.50 252.00L435.00 252.24L435.50 252.54L436.00 252.88L436.50 253.25L437.00 253.65L437.50 254.05L438.00 254.46L438.50 254.87L439.00 255.27L439.50 255.65L440.00 256.01L440.50 256.34L441.00 256.64L441.50 256.91L442.00 257.15L442.50 257.37L443.00 257.55L443.50 257.71L444.00 257.84L444.50 257.95L445.00 258.04L445.50 258.12L446.00 258.18L446.50 258.23L446.70 258.24" fill="none" stroke="#8e8242" stroke-width="1.85" stroke-linejoin="round" stroke-linecap="square"/>
<path d="M270.00 239.10L270.50 239.10L271.00 239.09L271.50 239.08L272.00 239.07L272.50 239.05L273.00 239.03L273.50 238.99L274.00 238.93L274.50 238.85L275.00 238.74L275.50 238.58L276.00 238.37L276.50 238.09L277.00 237.72L277.50 237.24L278.00 236.63L278.50 235.88L279.00 234.95L279.50 233.84L280.00 232.53L280.50 231.01L281.00 229.29L281.50 227.37L282.00 225.29L282.50 223.08L283.00 220.78L283.50 218.47L284.00 216.20L284.50 214.05L285.00 212.11L285.50 210.44L286.00 209.11L286.50 208.18L287.00 207.68L287.50 207.63L288.00 208.04L288.50 208.87L289.00 210.09L289.50 211.64L290.00 213.45L290.50 215.44L291.00 217.52L291.50 219.62L292.00 221.65L292.50 223.56L293.00 225.29L293.50 226.79L294.00 228.05L294.50 229.06L295.00 229.81L295.50 230.32L296.00 230.62L296.50 230.75L297.00 230.73L297.50 230.61L298.00 230.43L298.50 230.23L299.00 230.05L299.50 229.91L300.00 229.85L300.50 229.88L301.00 230.01L301.50 230.24L302.00 230.58L302.50 231.01L303.00 231.52L303.50 232.10L304.00 232.71L304.50 233.36L305.00 234.01L305.50 234.65L306.00 235.26L306.50 235.84L307.00 236.36L307.50 236.84L308.00 237.26L308.50 237.62L309.00 237.92L309.50 238.18L310.00 238.39L310.50 238.56L311.00 238.70L311.50 238.80L312.00 238.88L312.50 238.95L313.00 238.99L313.50 239.03L314.00 239.05L314.50 239.07L315.00 239.08L315.50 239.09L316.00 239.09L316.50 239.10L317.00 239.10L317.50 239.10L318.00 239.10L318.50 239.10L319.00 239.10L319.50 239.10L320.00 239.10L320.50 239.10L321.00 239.10L321.50 239.10L322.00 239.10L322.50 239.10L323.00 239.10L323.50 239.10L324.00 239.10L324.50 239.10L325.00 239.10L325.50 239.10L326.00 239.10L326.50 239.10L327.00 239.10L327.50 239.10L328.00 239.10L328.50 239.10L329.00 239.09L329.50 239.09L330.00 239.08L330.50 239.07L331.00 239.05L331.50 239.02L332.00 238.98L332.50 238.93L333.00 238.85L333.50 238.75L334.00 238.62L334.50 238.46L335.00 238.25L335.50 237.99L336.00 237.67L336.50 237.29L337.00 236.85L337.50 236.35L338.00 235.79L338.50 235.17L339.00 234.52L339.50 233.85L340.00 233.18L340.50 232.52L341.00 231.91L341.50 231.37L342.00 230.92L342.50 230.58L343.00 230.37L343.50 230.29L344.00 230.36L344.50 230.56L345.00 230.90L345.50 231.34L346.00 231.87L346.50 232.47L347.00 233.12L347.50 233.77L348.00 234.42L348.50 235.05L349.00 235.62L349.50 236.13L350.00 236.58L350.50 236.94L351.00 237.22L351.50 237.42L352.00 237.54L352.50 237.58L353.00 237.54L353.50 237.42L354.00 237.23L354.50 236.97L355.00 236.64L355.50 236.24L356.00 235.78L356.50 235.26L357.00 234.67L357.50 234.03L358.00 233.35L358.50 232.62L359.00 231.86L359.50 231.07L360.00 230.27L360.50 229.48L361.00 228.71L361.50 227.96L362.00 227.27L362.50 226.64L363.00 226.08L363.50 225.62L364.00 225.26L364.50 225.01L365.00 224.87L365.50 224.86L366.00 224.96L366.50 225.19L367.00 225.52L367.50 225.96L368.00 226.49L368.50 227.10L369.00 227.76L369.50 228.47L370.00 229.21L370.50 229.95L371.00 230.68L371.50 231.37L372.00 232.00L372.50 232.55L373.00 233.00L373.50 233.32L374.00 233.48L374.50 233.47L375.00 233.26L375.50 232.81L376.00 232.13L376.50 231.17L377.00 229.94L377.50 228.42L378.00 226.63L378.50 224.58L379.00 222.30L379.50 219.84L380.00 217.24L380.50 214.59L381.00 211.96L381.50 209.43L382.00 207.11L382.50 205.07L383.00 203.40L383.50 202.17L384.00 201.43L384.50 201.22L385.00 201.54L385.50 202.37L386.00 203.70L386.50 205.46L387.00 207.58L387.50 209.99L388.00 212.59L388.50 215.30L389.00 218.03L389.50 220.71L390.00 223.28L390.50 225.68L391.00 227.88L391.50 229.85L392.00 231.58L392.50 233.08L393.00 234.34L393.50 235.40L394.00 236.26L394.50 236.95L395.00 237.49L395.50 237.92L396.00 238.24L396.50 238.49L397.00 238.67L397.50 238.80L398.00 238.89L398.50 238.96L399.00 239.00L399.50 239.03L400.00 239.05L400.50 239.05L401.00 239.05L401.50 239.05L402.00 239.03L402.50 239.02L403.00 238.99L403.50 238.96L404.00 238.91L404.50 238.86L405.00 238.79L405.50 238.71L406.00 238.61L406.50 238.49L407.00 238.34L407.50 238.18L408.00 237.98L408.50 237.76L409.00 237.51L409.50 237.23L410.00 236.92L410.50 236.59L411.00 236.23L411.50 235.85L412.00 235.45L412.50 235.04L413.00 234.63L413.50 234.22L414.00 233.82L414.50 233.45L415.00 233.10L415.50 232.79L416.00 232.53L416.50 232.31L417.00 232.15L417.50 232.06L418.00 232.02L418.50 232.05L419.00 232.14L419.50 232.29L420.00 232.49L420.50 232.74L421.00 233.02L421.50 233.33L422.00 233.65L422.50 233.98L423.00 234.30L423.50 234.61L424.00 234.89L424.50 235.13L425.00 235.33L425.50 235.48L426.00 235.57L426.50 235.61L427.00 235.58L427.50 235.50L428.00 235.36L428.50 235.16L429.00 234.91L429.50 234.63L430.00 234.31L430.50 233.97L431.00 233.62L431.50 233.27L432.00 232.94L432.50 232.62L433.00 232.35L433.50 232.12L434.00 231.94L434.50 231.83L435.00 231.78L435.50 231.80L436.00 231.88L436.50 232.04L437.00 232.25L437.50 232.53L438.00 232.85L438.50 233.21L439.00 233.61L439.50 234.03L440.00 234.46L440.50 234.90L441.00 235.33L441.50 235.75L442.00 236.16L442.50 236.54L443.00 236.89L443.50 237.21L444.00 237.50L444.50 237.76L445.00 237.99L445.50 238.19L446.00 238.36L446.50 238.50L447.00 238.63L447.50 238.73L448.00 238.81L448.50 238.87L449.00 238.93L449.50 238.97L449.60 238.98" fill="none" stroke="#726939" stroke-width="1.85" stroke-linejoin="round" stroke-linecap="square"/>
<path d="M270.00 212.94L270.50 212.93L271.00 212.92L271.50 212.91L272.00 212.89L272.50 212.86L273.00 212.82L273.50 212.77L274.00 212.69L274.50 212.59L275.00 212.45L275.50 212.27L276.00 212.02L276.50 211.71L277.00 211.32L277.50 210.82L278.00 210.22L278.50 209.48L279.00 208.60L279.50 207.57L280.00 206.37L280.50 205.02L281.00 203.51L281.50 201.86L282.00 200.09L282.50 198.23L283.00 196.32L283.50 194.40L284.00 192.52L284.50 190.74L285.00 189.12L285.50 187.71L286.00 186.55L286.50 185.70L287.00 185.17L287.50 185.00L288.00 185.17L288.50 185.68L289.00 186.51L289.50 187.62L290.00 188.97L290.50 190.49L291.00 192.13L291.50 193.82L292.00 195.52L292.50 197.17L293.00 198.71L293.50 200.12L294.00 201.35L294.50 202.41L295.00 203.26L295.50 203.93L296.00 204.42L296.50 204.74L297.00 204.92L297.50 204.99L298.00 204.98L298.50 204.91L299.00 204.81L299.50 204.72L300.00 204.65L300.50 204.63L301.00 204.67L301.50 204.77L302.00 204.96L302.50 205.21L303.00 205.54L303.50 205.94L304.00 206.38L304.50 206.87L305.00 207.39L305.50 207.93L306.00 208.46L306.50 208.99L307.00 209.50L307.50 209.97L308.00 210.42L308.50 210.82L309.00 211.18L309.50 211.49L310.00 211.77L310.50 212.00L311.00 212.20L311.50 212.36L312.00 212.49L312.50 212.60L313.00 212.68L313.50 212.75L314.00 212.80L314.50 212.84L315.00 212.87L315.50 212.89L316.00 212.91L316.50 212.92L317.00 212.93L317.50 212.93L318.00 212.94L318.50 212.94L319.00 212.94L319.50 212.94L320.00 212.94L320.50 212.94L321.00 212.95L321.50 212.95L322.00 212.95L322.50 212.95L323.00 212.95L323.50 212.95L324.00 212.95L324.50 212.95L325.00 212.94L325.50 212.94L326.00 212.94L326.50 212.94L327.00 212.94L327.50 212.94L328.00 212.93L328.50 212.93L329.00 212.92L329.50 212.91L330.00 212.90L330.50 212.87L331.00 212.85L331.50 212.81L332.00 212.76L332.50 212.69L333.00 212.61L333.50 212.51L334.00 212.38L334.50 212.22L335.00 212.03L335.50 211.80L336.00 211.54L336.50 211.24L337.00 210.90L337.50 210.53L338.00 210.12L338.50 209.68L339.00 209.23L339.50 208.77L340.00 208.31L340.50 207.86L341.00 207.45L341.50 207.07L342.00 206.75L342.50 206.49L343.00 206.30L343.50 206.20L344.00 206.17L344.50 206.23L345.00 206.37L345.50 206.58L346.00 206.85L346.50 207.17L347.00 207.53L347.50 207.91L348.00 208.30L348.50 208.67L349.00 209.03L349.50 209.35L350.00 209.62L350.50 209.84L351.00 210.00L351.50 210.09L352.00 210.12L352.50 210.07L353.00 209.96L353.50 209.78L354.00 209.53L354.50 209.23L355.00 208.87L355.50 208.46L356.00 208.01L356.50 207.53L357.00 207.01L357.50 206.47L358.00 205.92L358.50 205.37L359.00 204.82L359.50 204.29L360.00 203.78L360.50 203.31L361.00 202.88L361.50 202.50L362.00 202.17L362.50 201.91L363.00 201.72L363.50 201.60L364.00 201.56L364.50 201.59L365.00 201.70L365.50 201.88L366.00 202.12L366.50 202.43L367.00 202.79L367.50 203.19L368.00 203.61L368.50 204.06L369.00 204.51L369.50 204.94L370.00 205.35L370.50 205.69L371.00 205.97L371.50 206.14L372.00 206.20L372.50 206.11L373.00 205.86L373.50 205.41L374.00 204.75L374.50 203.87L375.00 202.76L375.50 201.40L376.00 199.82L376.50 198.03L377.00 196.05L377.50 193.92L378.00 191.70L378.50 189.45L379.00 187.23L379.50 185.11L380.00 183.18L380.50 181.50L381.00 180.13L381.50 179.14L382.00 178.56L382.50 178.41L383.00 178.72L383.50 179.46L384.00 180.60L384.50 182.10L385.00 183.90L385.50 185.92L386.00 188.07L386.50 190.28L387.00 192.45L387.50 194.49L388.00 196.34L388.50 197.93L389.00 199.23L389.50 200.24L390.00 200.96L390.50 201.46L391.00 201.80L391.50 202.07L392.00 202.36L392.50 202.74L393.00 203.27L393.50 203.97L394.00 204.83L394.50 205.82L395.00 206.88L395.50 207.95L396.00 208.96L396.50 209.88L397.00 210.67L397.50 211.31L398.00 211.81L398.50 212.18L399.00 212.45L399.50 212.63L400.00 212.75L400.50 212.81L401.00 212.85L401.50 212.86L402.00 212.85L402.50 212.83L403.00 212.79L403.50 212.74L404.00 212.67L404.50 212.58L405.00 212.47L405.50 212.33L406.00 212.15L406.50 211.95L407.00 211.70L407.50 211.41L408.00 211.08L408.50 210.71L409.00 210.30L409.50 209.85L410.00 209.38L410.50 208.88L411.00 208.37L411.50 207.86L412.00 207.37L412.50 206.91L413.00 206.49L413.50 206.13L414.00 205.85L414.50 205.64L415.00 205.53L415.50 205.51L416.00 205.58L416.50 205.75L417.00 205.99L417.50 206.32L418.00 206.70L418.50 207.13L419.00 207.59L419.50 208.06L420.00 208.54L420.50 208.99L421.00 209.41L421.50 209.79L422.00 210.12L422.50 210.38L423.00 210.57L423.50 210.68L424.00 210.72L424.50 210.68L425.00 210.56L425.50 210.37L426.00 210.12L426.50 209.80L427.00 209.42L427.50 209.01L428.00 208.56L428.50 208.10L429.00 207.63L429.50 207.18L430.00 206.75L430.50 206.37L431.00 206.04L431.50 205.78L432.00 205.60L432.50 205.51L433.00 205.51L433.50 205.59L434.00 205.77L434.50 206.02L435.00 206.35L435.50 206.74L436.00 207.17L436.50 207.64L437.00 208.13L437.50 208.63L438.00 209.13L438.50 209.60L439.00 210.06L439.50 210.48L440.00 210.87L440.50 211.21L441.00 211.52L441.50 211.79L442.00 212.02L442.50 212.21L443.00 212.37L443.50 212.50L444.00 212.60L444.50 212.69L445.00 212.75L445.50 212.80L446.00 212.84L446.50 212.87L447.00 212.89" fill="none" stroke="#565030" stroke-width="1.85" stroke-linejoin="round" stroke-linecap="square"/>
<path d="M270.00 187.03L270.50 187.02L271.00 187.00L271.50 186.97L272.00 186.93L272.50 186.88L273.00 186.81L273.50 186.71L274.00 186.59L274.50 186.42L275.00 186.21L275.50 185.95L276.00 185.62L276.50 185.20L277.00 184.70L277.50 184.10L278.00 183.38L278.50 182.54L279.00 181.57L279.50 180.47L280.00 179.24L280.50 177.88L281.00 176.41L281.50 174.84L282.00 173.20L282.50 171.51L283.00 169.81L283.50 168.14L284.00 166.54L284.50 165.05L285.00 163.71L285.50 162.56L286.00 161.63L286.50 160.95L287.00 160.54L287.50 160.40L288.00 160.53L288.50 160.93L289.00 161.56L289.50 162.40L290.00 163.42L290.50 164.57L291.00 165.82L291.50 167.11L292.00 168.42L292.50 169.69L293.00 170.90L293.50 172.03L294.00 173.05L294.50 173.95L295.00 174.73L295.50 175.39L296.00 175.93L296.50 176.37L297.00 176.73L297.50 177.02L298.00 177.25L298.50 177.46L299.00 177.64L299.50 177.83L300.00 178.03L300.50 178.25L301.00 178.50L301.50 178.78L302.00 179.10L302.50 179.46L303.00 179.85L303.50 180.27L304.00 180.71L304.50 181.17L305.00 181.64L305.50 182.11L306.00 182.58L306.50 183.04L307.00 183.48L307.50 183.89L308.00 184.29L308.50 184.65L309.00 184.98L309.50 185.28L310.00 185.56L310.50 185.80L311.00 186.01L311.50 186.19L312.00 186.35L312.50 186.48L313.00 186.59L313.50 186.69L314.00 186.76L314.50 186.83L315.00 186.88L315.50 186.92L316.00 186.95L316.50 186.98L317.00 187.00L317.50 187.01L318.00 187.02L318.50 187.03L319.00 187.04L319.50 187.05L320.00 187.05L320.50 187.05L321.00 187.05L321.50 187.05L322.00 187.06L322.50 187.06L323.00 187.06L323.50 187.06L324.00 187.05L324.50 187.05L325.00 187.05L325.50 187.05L326.00 187.05L326.50 187.04L327.00 187.03L327.50 187.03L328.00 187.02L328.50 187.00L329.00 186.98L329.50 186.96L330.00 186.93L330.50 186.89L331.00 186.84L331.50 186.78L332.00 186.70L332.50 186.62L333.00 186.51L333.50 186.38L334.00 186.24L334.50 186.07L335.00 185.87L335.50 185.65L336.00 185.41L336.50 185.13L337.00 184.83L337.50 184.51L338.00 184.17L338.50 183.81L339.00 183.44L339.50 183.06L340.00 182.68L340.50 182.31L341.00 181.95L341.50 181.61L342.00 181.30L342.50 181.03L343.00 180.80L343.50 180.61L344.00 180.49L344.50 180.41L345.00 180.40L345.50 180.44L346.00 180.54L346.50 180.70L347.00 180.90L347.50 181.15L348.00 181.44L348.50 181.76L349.00 182.10L349.50 182.45L350.00 182.81L350.50 183.16L351.00 183.50L351.50 183.82L352.00 184.11L352.50 184.37L353.00 184.59L353.50 184.75L354.00 184.87L354.50 184.92L355.00 184.91L355.50 184.84L356.00 184.69L356.50 184.47L357.00 184.18L357.50 183.80L358.00 183.36L358.50 182.84L359.00 182.25L359.50 181.60L360.00 180.89L360.50 180.14L361.00 179.36L361.50 178.55L362.00 177.74L362.50 176.95L363.00 176.19L363.50 175.48L364.00 174.84L364.50 174.29L365.00 173.83L365.50 173.49L366.00 173.27L366.50 173.18L367.00 173.23L367.50 173.40L368.00 173.69L368.50 174.10L369.00 174.62L369.50 175.22L370.00 175.89L370.50 176.61L371.00 177.36L371.50 178.11L372.00 178.85L372.50 179.56L373.00 180.21L373.50 180.78L374.00 181.25L374.50 181.61L375.00 181.84L375.50 181.92L376.00 181.84L376.50 181.58L377.00 181.13L377.50 180.49L378.00 179.64L378.50 178.58L379.00 177.32L379.50 175.86L380.00 174.22L380.50 172.41L381.00 170.46L381.50 168.40L382.00 166.27L382.50 164.13L383.00 162.01L383.50 159.97L384.00 158.07L384.50 156.36L385.00 154.89L385.50 153.71L386.00 152.85L386.50 152.33L387.00 152.19L387.50 152.42L388.00 153.01L388.50 153.94L389.00 155.20L389.50 156.73L390.00 158.50L390.50 160.45L391.00 162.53L391.50 164.69L392.00 166.88L392.50 169.04L393.00 171.15L393.50 173.16L394.00 175.04L394.50 176.78L395.00 178.36L395.50 179.78L396.00 181.03L396.50 182.12L397.00 183.05L397.50 183.85L398.00 184.51L398.50 185.06L399.00 185.50L399.50 185.86L400.00 186.15L400.50 186.37L401.00 186.55L401.50 186.68L402.00 186.78L402.50 186.85L403.00 186.91L403.50 186.94L404.00 186.96L404.50 186.98L405.00 186.98L405.50 186.97L406.00 186.95L406.50 186.92L407.00 186.88L407.50 186.82L408.00 186.75L408.50 186.66L409.00 186.54L409.50 186.40L410.00 186.24L410.50 186.04L411.00 185.81L411.50 185.54L412.00 185.24L412.50 184.90L413.00 184.53L413.50 184.13L414.00 183.70L414.50 183.26L415.00 182.81L415.50 182.36L416.00 181.92L416.50 181.51L417.00 181.13L417.50 180.80L418.00 180.52L418.50 180.31L419.00 180.17L419.50 180.11L420.00 180.12L420.50 180.21L421.00 180.38L421.50 180.60L422.00 180.88L422.50 181.20L423.00 181.55L423.50 181.91L424.00 182.28L424.50 182.63L425.00 182.96L425.50 183.25L426.00 183.49L426.50 183.68L427.00 183.81L427.50 183.88L428.00 183.87L428.50 183.81L429.00 183.68L429.50 183.49L430.00 183.26L430.50 182.98L431.00 182.66L431.50 182.33L432.00 181.98L432.50 181.63L433.00 181.30L433.50 180.99L434.00 180.71L434.50 180.48L435.00 180.29L435.50 180.17L436.00 180.11L436.50 180.11L437.00 180.18L437.50 180.31L438.00 180.51L438.50 180.76L439.00 181.06L439.50 181.40L440.00 181.77L440.50 182.17L441.00 182.58L441.50 182.99L442.00 183.40L442.50 183.81L443.00 184.19L443.50 184.56L444.00 184.90L444.50 185.21L445.00 185.49L445.50 185.74L446.00 185.96L446.50 186.16L447.00 186.32L447.50 186.47L448.00 186.58L448.50 186.68L449.00 186.76L449.50 186.83L450.00 186.88L450.50 186.92L451.00 186.96L451.30 186.97" fill="none" stroke="#3a3727" stroke-width="1.85" stroke-linejoin="round" stroke-linecap="square"/>
<path d="M271.50 161.22L272.00 161.18L272.50 161.11L273.00 161.02L273.50 160.90L274.00 160.74L274.50 160.54L275.00 160.28L275.50 159.96L276.00 159.55L276.50 159.06L277.00 158.46L277.50 157.74L278.00 156.90L278.50 155.92L279.00 154.80L279.50 153.54L280.00 152.14L280.50 150.60L281.00 148.95L281.50 147.20L282.00 145.39L282.50 143.55L283.00 141.71L283.50 139.93L284.00 138.24L284.50 136.70L285.00 135.35L285.50 134.23L286.00 133.38L286.50 132.82L287.00 132.57L287.50 132.64L288.00 133.03L288.50 133.73L289.00 134.70L289.50 135.91L290.00 137.34L290.50 138.93L291.00 140.63L291.50 142.40L292.00 144.19L292.50 145.95L293.00 147.66L293.50 149.26L294.00 150.74L294.50 152.08L295.00 153.26L295.50 154.27L296.00 155.12L296.50 155.80L297.00 156.32L297.50 156.70L298.00 156.94L298.50 157.06L299.00 157.07L299.50 156.99L300.00 156.84L300.50 156.64L301.00 156.38L301.50 156.10L302.00 155.81L302.50 155.52L303.00 155.23L303.50 154.97L304.00 154.74L304.50 154.55L305.00 154.41L305.50 154.31L306.00 154.28L306.50 154.29L307.00 154.37L307.50 154.50L308.00 154.68L308.50 154.91L309.00 155.18L309.50 155.49L310.00 155.83L310.50 156.20L311.00 156.58L311.50 156.96L312.00 157.35L312.50 157.74L313.00 158.11L313.50 158.47L314.00 158.81L314.50 159.13L315.00 159.42L315.50 159.69L316.00 159.93L316.50 160.15L317.00 160.34L317.50 160.51L318.00 160.66L318.50 160.78L319.00 160.89L319.50 160.98L320.00 161.05L320.50 161.11L321.00 161.16L321.50 161.20L322.00 161.23L322.50 161.25L323.00 161.27L323.50 161.28L324.00 161.29L324.50 161.29L325.00 161.29L325.50 161.29L326.00 161.28L326.50 161.26L327.00 161.25L327.50 161.22L328.00 161.19L328.50 161.15L329.00 161.11L329.50 161.05L330.00 160.98L330.50 160.90L331.00 160.81L331.50 160.69L332.00 160.57L332.50 160.42L333.00 160.26L333.50 160.07L334.00 159.86L334.50 159.63L335.00 159.38L335.50 159.11L336.00 158.82L336.50 158.51L337.00 158.19L337.50 157.85L338.00 157.50L338.50 157.15L339.00 156.81L339.50 156.46L340.00 156.13L340.50 155.81L341.00 155.52L341.50 155.26L342.00 155.02L342.50 154.83L343.00 154.68L343.50 154.57L344.00 154.51L344.50 154.49L345.00 154.53L345.50 154.61L346.00 154.74L346.50 154.91L347.00 155.12L347.50 155.37L348.00 155.64L348.50 155.95L349.00 156.27L349.50 156.61L350.00 156.95L350.50 157.30L351.00 157.65L351.50 157.99L352.00 158.31L352.50 158.62L353.00 158.91L353.50 159.18L354.00 159.42L354.50 159.63L355.00 159.80L355.50 159.94L356.00 160.03L356.50 160.07L357.00 160.06L357.50 159.98L358.00 159.84L358.50 159.62L359.00 159.31L359.50 158.91L360.00 158.42L360.50 157.82L361.00 157.12L361.50 156.31L362.00 155.41L362.50 154.43L363.00 153.37L363.50 152.27L364.00 151.15L364.50 150.05L365.00 148.98L365.50 147.99L366.00 147.12L366.50 146.39L367.00 145.84L367.50 145.48L368.00 145.33L368.50 145.40L369.00 145.68L369.50 146.16L370.00 146.82L370.50 147.63L371.00 148.56L371.50 149.57L372.00 150.63L372.50 151.68L373.00 152.69L373.50 153.61L374.00 154.43L374.50 155.10L375.00 155.62L375.50 155.98L376.00 156.19L376.50 156.27L377.00 156.26L377.50 156.19L378.00 156.09L378.50 156.01L379.00 155.96L379.50 155.93L380.00 155.91L380.50 155.87L381.00 155.76L381.50 155.55L382.00 155.17L382.50 154.60L383.00 153.81L383.50 152.78L384.00 151.50L384.50 150.01L385.00 148.30L385.50 146.43L386.00 144.42L386.50 142.33L387.00 140.20L387.50 138.11L388.00 136.10L388.50 134.24L389.00 132.58L389.50 131.19L390.00 130.10L390.50 129.37L391.00 129.00L391.50 129.02L392.00 129.42L392.50 130.19L393.00 131.31L393.50 132.73L394.00 134.40L394.50 136.28L395.00 138.31L395.50 140.43L396.00 142.57L396.50 144.70L397.00 146.76L397.50 148.72L398.00 150.55L398.50 152.22L399.00 153.72L399.50 155.06L400.00 156.22L400.50 157.21L401.00 158.06L401.50 158.76L402.00 159.33L402.50 159.80L403.00 160.17L403.50 160.47L404.00 160.69L404.50 160.87L405.00 161.00L405.50 161.10L406.00 161.17L406.50 161.22L407.00 161.26L407.50 161.28L408.00 161.30L408.50 161.31L409.00 161.31L409.50 161.31L410.00 161.31L410.50 161.30L411.00 161.29L411.50 161.27L412.00 161.24L412.50 161.21L413.00 161.17L413.50 161.12L414.00 161.05L414.50 160.97L415.00 160.87L415.50 160.75L416.00 160.61L416.50 160.44L417.00 160.24L417.50 160.01L418.00 159.75L418.50 159.45L419.00 159.13L419.50 158.77L420.00 158.38L420.50 157.96L421.00 157.52L421.50 157.07L422.00 156.60L422.50 156.14L423.00 155.68L423.50 155.24L424.00 154.83L424.50 154.45L425.00 154.12L425.50 153.85L426.00 153.64L426.50 153.50L427.00 153.43L427.50 153.43L428.00 153.50L428.50 153.65L429.00 153.85L429.50 154.12L430.00 154.44L430.50 154.79L431.00 155.17L431.50 155.57L432.00 155.96L432.50 156.35L433.00 156.72L433.50 157.06L434.00 157.35L434.50 157.59L435.00 157.77L435.50 157.89L436.00 157.94L436.50 157.91L437.00 157.82L437.50 157.65L438.00 157.42L438.50 157.14L439.00 156.81L439.50 156.44L440.00 156.04L440.50 155.63L441.00 155.23L441.50 154.84L442.00 154.48L442.50 154.17L443.00 153.92L443.50 153.73L444.00 153.62L444.50 153.58L445.00 153.64L445.50 153.77L446.00 153.98L446.50 154.26L447.00 154.61L447.50 155.01L448.00 155.45L448.50 155.92L449.00 156.40L449.50 156.90L450.00 157.39L450.50 157.86L451.00 158.31L451.50 158.73L452.00 159.12L452.50 159.47L453.00 159.78L453.50 160.06L454.00 160.30L454.50 160.50L455.00 160.67L455.50 160.81L456.00 160.93L456.50 161.03L456.90 161.09" fill="none" stroke="#1e1e1e" stroke-width="1.85" stroke-linejoin="round" stroke-linecap="square"/>
<path d="M270.00 135.28L270.50 135.25L271.00 135.22L271.50 135.18L272.00 135.12L272.50 135.04L273.00 134.94L273.50 134.80L274.00 134.62L274.50 134.39L275.00 134.10L275.50 133.75L276.00 133.30L276.50 132.77L277.00 132.12L277.50 131.36L278.00 130.47L278.50 129.44L279.00 128.27L279.50 126.96L280.00 125.51L280.50 123.93L281.00 122.25L281.50 120.48L282.00 118.65L282.50 116.80L283.00 114.97L283.50 113.20L284.00 111.53L284.50 110.01L285.00 108.68L285.50 107.59L286.00 106.76L286.50 106.23L287.00 106.01L287.50 106.10L288.00 106.51L288.50 107.22L289.00 108.20L289.50 109.44L290.00 110.88L290.50 112.49L291.00 114.23L291.50 116.04L292.00 117.89L292.50 119.72L293.00 121.51L293.50 123.23L294.00 124.84L294.50 126.33L295.00 127.67L295.50 128.88L296.00 129.93L296.50 130.84L297.00 131.60L297.50 132.23L298.00 132.73L298.50 133.11L299.00 133.38L299.50 133.55L300.00 133.63L300.50 133.63L301.00 133.55L301.50 133.40L302.00 133.19L302.50 132.93L303.00 132.61L303.50 132.25L304.00 131.85L304.50 131.43L305.00 130.98L305.50 130.52L306.00 130.06L306.50 129.60L307.00 129.17L307.50 128.77L308.00 128.40L308.50 128.09L309.00 127.84L309.50 127.65L310.00 127.54L310.50 127.50L311.00 127.53L311.50 127.65L312.00 127.83L312.50 128.08L313.00 128.39L313.50 128.75L314.00 129.16L314.50 129.59L315.00 130.05L315.50 130.52L316.00 130.99L316.50 131.45L317.00 131.89L317.50 132.32L318.00 132.72L318.50 133.08L319.00 133.42L319.50 133.72L320.00 133.98L320.50 134.22L321.00 134.42L321.50 134.59L322.00 134.74L322.50 134.86L323.00 134.96L323.50 135.04L324.00 135.10L324.50 135.15L325.00 135.19L325.50 135.22L326.00 135.24L326.50 135.25L327.00 135.25L327.50 135.25L328.00 135.24L328.50 135.22L329.00 135.19L329.50 135.15L330.00 135.10L330.50 135.03L331.00 134.95L331.50 134.85L332.00 134.73L332.50 134.59L333.00 134.42L333.50 134.22L334.00 133.99L334.50 133.73L335.00 133.43L335.50 133.11L336.00 132.75L336.50 132.37L337.00 131.95L337.50 131.52L338.00 131.08L338.50 130.63L339.00 130.19L339.50 129.75L340.00 129.34L340.50 128.96L341.00 128.63L341.50 128.34L342.00 128.11L342.50 127.95L343.00 127.85L343.50 127.83L344.00 127.88L344.50 128.01L345.00 128.20L345.50 128.45L346.00 128.76L346.50 129.12L347.00 129.51L347.50 129.93L348.00 130.37L348.50 130.82L349.00 131.27L349.50 131.71L350.00 132.13L350.50 132.53L351.00 132.90L351.50 133.25L352.00 133.56L352.50 133.83L353.00 134.08L353.50 134.29L354.00 134.46L354.50 134.61L355.00 134.72L355.50 134.80L356.00 134.85L356.50 134.86L357.00 134.84L357.50 134.78L358.00 134.67L358.50 134.52L359.00 134.30L359.50 134.02L360.00 133.67L360.50 133.24L361.00 132.71L361.50 132.09L362.00 131.38L362.50 130.56L363.00 129.65L363.50 128.65L364.00 127.59L364.50 126.47L365.00 125.32L365.50 124.17L366.00 123.06L366.50 122.02L367.00 121.08L367.50 120.27L368.00 119.63L368.50 119.18L369.00 118.94L369.50 118.91L370.00 119.10L370.50 119.50L371.00 120.09L371.50 120.85L372.00 121.75L372.50 122.76L373.00 123.83L373.50 124.94L374.00 126.04L374.50 127.11L375.00 128.12L375.50 129.04L376.00 129.84L376.50 130.53L377.00 131.07L377.50 131.47L378.00 131.72L378.50 131.82L379.00 131.76L379.50 131.55L380.00 131.19L380.50 130.67L381.00 130.00L381.50 129.17L382.00 128.20L382.50 127.09L383.00 125.83L383.50 124.45L384.00 122.96L384.50 121.36L385.00 119.69L385.50 117.95L386.00 116.19L386.50 114.43L387.00 112.70L387.50 111.04L388.00 109.49L388.50 108.07L389.00 106.82L389.50 105.77L390.00 104.95L390.50 104.38L391.00 104.07L391.50 104.03L392.00 104.26L392.50 104.75L393.00 105.50L393.50 106.48L394.00 107.67L394.50 109.05L395.00 110.57L395.50 112.20L396.00 113.91L396.50 115.67L397.00 117.44L397.50 119.19L398.00 120.90L398.50 122.53L399.00 124.08L399.50 125.53L400.00 126.86L400.50 128.08L401.00 129.17L401.50 130.14L402.00 131.00L402.50 131.74L403.00 132.38L403.50 132.92L404.00 133.37L404.50 133.75L405.00 134.05L405.50 134.30L406.00 134.49L406.50 134.63L407.00 134.73L407.50 134.80L408.00 134.83L408.50 134.84L409.00 134.82L409.50 134.77L410.00 134.70L410.50 134.62L411.00 134.50L411.50 134.37L412.00 134.22L412.50 134.04L413.00 133.84L413.50 133.62L414.00 133.38L414.50 133.11L415.00 132.83L415.50 132.53L416.00 132.22L416.50 131.89L417.00 131.55L417.50 131.21L418.00 130.87L418.50 130.53L419.00 130.20L419.50 129.89L420.00 129.59L420.50 129.32L421.00 129.08L421.50 128.87L422.00 128.70L422.50 128.58L423.00 128.49L423.50 128.45L424.00 128.45L424.50 128.50L425.00 128.59L425.50 128.71L426.00 128.88L426.50 129.07L427.00 129.29L427.50 129.52L428.00 129.77L428.50 130.02L429.00 130.27L429.50 130.50L430.00 130.72L430.50 130.92L431.00 131.08L431.50 131.21L432.00 131.30L432.50 131.35L433.00 131.34L433.50 131.30L434.00 131.20L434.50 131.06L435.00 130.89L435.50 130.68L436.00 130.43L436.50 130.17L437.00 129.90L437.50 129.62L438.00 129.35L438.50 129.10L439.00 128.87L439.50 128.67L440.00 128.52L440.50 128.41L441.00 128.36L441.50 128.36L442.00 128.43L442.50 128.54L443.00 128.72L443.50 128.94L444.00 129.22L444.50 129.53L445.00 129.87L445.50 130.24L446.00 130.63L446.50 131.03L447.00 131.43L447.50 131.82L448.00 132.20L448.50 132.57L449.00 132.91L449.50 133.23L450.00 133.53L450.50 133.80L451.00 134.04L451.50 134.25L452.00 134.43L452.50 134.59L453.00 134.73L453.50 134.85L454.00 134.94L454.50 135.02L455.00 135.09L455.40 135.13" fill="none" stroke="#4c262a" stroke-width="1.85" stroke-linejoin="round" stroke-linecap="square"/>
<path d="M272.20 109.28L272.70 109.21L273.20 109.13L273.70 109.01L274.20 108.86L274.70 108.67L275.20 108.42L275.70 108.11L276.20 107.72L276.70 107.25L277.20 106.68L277.70 105.99L278.20 105.18L278.70 104.24L279.20 103.17L279.70 101.95L280.20 100.59L280.70 99.10L281.20 97.49L281.70 95.78L282.20 94.00L282.70 92.18L283.20 90.36L283.70 88.57L284.20 86.87L284.70 85.29L285.20 83.89L285.70 82.70L286.20 81.77L286.70 81.11L287.20 80.76L287.70 80.72L288.20 81.00L288.70 81.58L289.20 82.45L289.70 83.57L290.20 84.92L290.70 86.46L291.20 88.13L291.70 89.90L292.20 91.71L292.70 93.53L293.20 95.32L293.70 97.04L294.20 98.66L294.70 100.17L295.20 101.54L295.70 102.77L296.20 103.85L296.70 104.78L297.20 105.57L297.70 106.22L298.20 106.74L298.70 107.15L299.20 107.44L299.70 107.63L300.20 107.73L300.70 107.76L301.20 107.70L301.70 107.59L302.20 107.41L302.70 107.18L303.20 106.90L303.70 106.59L304.20 106.24L304.70 105.85L305.20 105.45L305.70 105.04L306.20 104.61L306.70 104.19L307.20 103.78L307.70 103.40L308.20 103.04L308.70 102.71L309.20 102.44L309.70 102.21L310.20 102.04L310.70 101.94L311.20 101.90L311.70 101.93L312.20 102.02L312.70 102.18L313.20 102.39L313.70 102.66L314.20 102.98L314.70 103.33L315.20 103.72L315.70 104.13L316.20 104.55L316.70 104.98L317.20 105.41L317.70 105.83L318.20 106.23L318.70 106.61L319.20 106.97L319.70 107.31L320.20 107.61L320.70 107.88L321.20 108.13L321.70 108.34L322.20 108.53L322.70 108.70L323.20 108.84L323.70 108.95L324.20 109.05L324.70 109.13L325.20 109.20L325.70 109.25L326.20 109.29L326.70 109.33L327.20 109.35L327.70 109.37L328.20 109.39L328.70 109.39L329.20 109.40L329.70 109.40L330.20 109.39L330.70 109.38L331.20 109.36L331.70 109.33L332.20 109.29L332.70 109.23L333.20 109.16L333.70 109.07L334.20 108.96L334.70 108.81L335.20 108.63L335.70 108.42L336.20 108.16L336.70 107.87L337.20 107.52L337.70 107.14L338.20 106.71L338.70 106.25L339.20 105.76L339.70 105.24L340.20 104.72L340.70 104.20L341.20 103.70L341.70 103.24L342.20 102.82L342.70 102.47L343.20 102.19L343.70 102.01L344.20 101.92L344.70 101.92L345.20 102.03L345.70 102.23L346.20 102.51L346.70 102.87L347.20 103.29L347.70 103.77L348.20 104.27L348.70 104.79L349.20 105.31L349.70 105.82L350.20 106.31L350.70 106.77L351.20 107.19L351.70 107.57L352.20 107.90L352.70 108.19L353.20 108.44L353.70 108.64L354.20 108.80L354.70 108.93L355.20 109.03L355.70 109.09L356.20 109.12L356.70 109.11L357.20 109.08L357.70 109.01L358.20 108.90L358.70 108.74L359.20 108.52L359.70 108.25L360.20 107.91L360.70 107.48L361.20 106.97L361.70 106.37L362.20 105.66L362.70 104.86L363.20 103.95L363.70 102.96L364.20 101.89L364.70 100.76L365.20 99.60L365.70 98.43L366.20 97.29L366.70 96.21L367.20 95.22L367.70 94.37L368.20 93.68L368.70 93.18L369.20 92.89L369.70 92.81L370.20 92.97L370.70 93.34L371.20 93.91L371.70 94.66L372.20 95.56L372.70 96.58L373.20 97.68L373.70 98.82L374.20 99.97L374.70 101.10L375.20 102.17L375.70 103.15L376.20 104.03L376.70 104.80L377.20 105.42L377.70 105.90L378.20 106.23L378.70 106.40L379.20 106.40L379.70 106.23L380.20 105.88L380.70 105.35L381.20 104.63L381.70 103.71L382.20 102.60L382.70 101.30L383.20 99.81L383.70 98.15L384.20 96.34L384.70 94.40L385.20 92.37L385.70 90.29L386.20 88.22L386.70 86.21L387.20 84.30L387.70 82.57L388.20 81.07L388.70 79.85L389.20 78.94L389.70 78.39L390.20 78.21L390.70 78.41L391.20 78.98L391.70 79.89L392.20 81.12L392.70 82.61L393.20 84.31L393.70 86.16L394.20 88.10L394.70 90.05L395.20 91.96L395.70 93.75L396.20 95.39L396.70 96.82L397.20 98.02L397.70 98.95L398.20 99.64L398.70 100.07L399.20 100.29L399.70 100.33L400.20 100.25L400.70 100.11L401.20 99.96L401.70 99.87L402.20 99.88L402.70 100.04L403.20 100.34L403.70 100.81L404.20 101.41L404.70 102.13L405.20 102.92L405.70 103.74L406.20 104.55L406.70 105.31L407.20 105.99L407.70 106.57L408.20 107.04L408.70 107.39L409.20 107.63L409.70 107.77L410.20 107.80L410.70 107.76L411.20 107.64L411.70 107.46L412.20 107.23L412.70 106.95L413.20 106.64L413.70 106.31L414.20 105.95L414.70 105.58L415.20 105.21L415.70 104.84L416.20 104.47L416.70 104.12L417.20 103.80L417.70 103.51L418.20 103.25L418.70 103.04L419.20 102.87L419.70 102.76L420.20 102.70L420.70 102.70L421.20 102.76L421.70 102.87L422.20 103.02L422.70 103.22L423.20 103.46L423.70 103.73L424.20 104.02L424.70 104.32L425.20 104.63L425.70 104.93L426.20 105.21L426.70 105.47L427.20 105.69L427.70 105.87L428.20 106.00L428.70 106.08L429.20 106.11L429.70 106.07L430.20 105.98L430.70 105.83L431.20 105.63L431.70 105.39L432.20 105.10L432.70 104.78L433.20 104.45L433.70 104.10L434.20 103.76L434.70 103.43L435.20 103.14L435.70 102.88L436.20 102.66L436.70 102.51L437.20 102.42L437.70 102.40L438.20 102.45L438.70 102.57L439.20 102.76L439.70 103.01L440.20 103.31L440.70 103.66L441.20 104.05L441.70 104.46L442.20 104.89L442.70 105.33L443.20 105.76L443.70 106.18L444.20 106.59L444.70 106.97L445.20 107.32L445.70 107.64L446.20 107.93L446.70 108.18L447.20 108.41L447.70 108.60L448.20 108.76L448.70 108.90L449.20 109.01L449.70 109.11L450.20 109.18L450.70 109.24L451.20 109.29L451.70 109.33L452.20 109.36L452.70 109.38L453.20 109.40L453.70 109.41L454.20 109.42" fill="none" stroke="#7b2d36" stroke-width="1.85" stroke-linejoin="round" stroke-linecap="square"/>
<path d="M273.60 83.65L274.10 83.57L274.60 83.47L275.10 83.34L275.60 83.16L276.10 82.94L276.60 82.66L277.10 82.31L277.60 81.87L278.10 81.34L278.60 80.71L279.10 79.95L279.60 79.07L280.10 78.04L280.60 76.88L281.10 75.57L281.60 74.13L282.10 72.56L282.60 70.88L283.10 69.11L283.60 67.28L284.10 65.43L284.60 63.60L285.10 61.83L285.60 60.17L286.10 58.66L286.60 57.34L287.10 56.26L287.60 55.45L288.10 54.93L288.60 54.72L289.10 54.83L289.60 55.24L290.10 55.96L290.60 56.95L291.10 58.17L291.60 59.60L292.10 61.18L292.60 62.87L293.10 64.62L293.60 66.39L294.10 68.13L294.60 69.81L295.10 71.39L295.60 72.85L296.10 74.17L296.60 75.34L297.10 76.35L297.60 77.20L298.10 77.90L298.60 78.45L299.10 78.86L299.60 79.14L300.10 79.31L300.60 79.39L301.10 79.39L301.60 79.32L302.10 79.20L302.60 79.04L303.10 78.85L303.60 78.64L304.10 78.43L304.60 78.23L305.10 78.03L305.60 77.85L306.10 77.69L306.60 77.57L307.10 77.47L307.60 77.41L308.10 77.39L308.60 77.41L309.10 77.46L309.60 77.55L310.10 77.68L310.60 77.84L311.10 78.03L311.60 78.25L312.10 78.50L312.60 78.76L313.10 79.04L313.60 79.34L314.10 79.64L314.60 79.94L315.10 80.25L315.60 80.55L316.10 80.84L316.60 81.13L317.10 81.40L317.60 81.66L318.10 81.90L318.60 82.13L319.10 82.34L319.60 82.53L320.10 82.70L320.60 82.86L321.10 83.00L321.60 83.12L322.10 83.23L322.60 83.32L323.10 83.40L323.60 83.46L324.10 83.52L324.60 83.56L325.10 83.59L325.60 83.61L326.10 83.62L326.60 83.62L327.10 83.61L327.60 83.59L328.10 83.56L328.60 83.52L329.10 83.46L329.60 83.40L330.10 83.32L330.60 83.22L331.10 83.11L331.60 82.98L332.10 82.83L332.60 82.66L333.10 82.47L333.60 82.26L334.10 82.03L334.60 81.78L335.10 81.51L335.60 81.21L336.10 80.90L336.60 80.57L337.10 80.22L337.60 79.86L338.10 79.49L338.60 79.12L339.10 78.75L339.60 78.38L340.10 78.02L340.60 77.67L341.10 77.34L341.60 77.04L342.10 76.76L342.60 76.52L343.10 76.32L343.60 76.15L344.10 76.04L344.60 75.96L345.10 75.94L345.60 75.96L346.10 76.03L346.60 76.15L347.10 76.31L347.60 76.52L348.10 76.76L348.60 77.03L349.10 77.33L349.60 77.66L350.10 78.01L350.60 78.37L351.10 78.74L351.60 79.11L352.10 79.49L352.60 79.85L353.10 80.21L353.60 80.56L354.10 80.89L354.60 81.20L355.10 81.49L355.60 81.76L356.10 82.01L356.60 82.23L357.10 82.43L357.60 82.60L358.10 82.74L358.60 82.85L359.10 82.93L359.60 82.97L360.10 82.98L360.60 82.94L361.10 82.85L361.60 82.71L362.10 82.50L362.60 82.22L363.10 81.87L363.60 81.43L364.10 80.90L364.60 80.27L365.10 79.55L365.60 78.74L366.10 77.84L366.60 76.86L367.10 75.82L367.60 74.74L368.10 73.64L368.60 72.54L369.10 71.48L369.60 70.50L370.10 69.61L370.60 68.86L371.10 68.26L371.60 67.85L372.10 67.63L372.60 67.61L373.10 67.80L373.60 68.19L374.10 68.75L374.60 69.48L375.10 70.35L375.60 71.32L376.10 72.36L376.60 73.45L377.10 74.55L377.60 75.62L378.10 76.65L378.60 77.62L379.10 78.49L379.60 79.26L380.10 79.92L380.60 80.45L381.10 80.86L381.60 81.12L382.10 81.25L382.60 81.23L383.10 81.05L383.60 80.71L384.10 80.20L384.60 79.52L385.10 78.65L385.60 77.59L386.10 76.34L386.60 74.90L387.10 73.27L387.60 71.47L388.10 69.53L388.60 67.46L389.10 65.30L389.60 63.11L390.10 60.92L390.60 58.81L391.10 56.82L391.60 55.01L392.10 53.45L392.60 52.19L393.10 51.25L393.60 50.69L394.10 50.52L394.60 50.73L395.10 51.33L395.60 52.29L396.10 53.58L396.60 55.14L397.10 56.92L397.60 58.85L398.10 60.88L398.60 62.92L399.10 64.92L399.60 66.83L400.10 68.59L400.60 70.16L401.10 71.52L401.60 72.67L402.10 73.61L402.60 74.36L403.10 74.94L403.60 75.42L404.10 75.81L404.60 76.17L405.10 76.54L405.60 76.94L406.10 77.39L406.60 77.90L407.10 78.46L407.60 79.05L408.10 79.67L408.60 80.28L409.10 80.85L409.60 81.38L410.10 81.84L410.60 82.22L411.10 82.52L411.60 82.74L412.10 82.89L412.60 82.96L413.10 82.97L413.60 82.91L414.10 82.81L414.60 82.65L415.10 82.46L415.60 82.22L416.10 81.94L416.60 81.63L417.10 81.29L417.60 80.91L418.10 80.51L418.60 80.09L419.10 79.65L419.60 79.20L420.10 78.74L420.60 78.30L421.10 77.87L421.60 77.46L422.10 77.09L422.60 76.76L423.10 76.48L423.60 76.26L424.10 76.10L424.60 76.01L425.10 75.99L425.60 76.04L426.10 76.15L426.60 76.34L427.10 76.58L427.60 76.87L428.10 77.21L428.60 77.59L429.10 77.98L429.60 78.39L430.10 78.80L430.60 79.20L431.10 79.58L431.60 79.93L432.10 80.23L432.60 80.48L433.10 80.66L433.60 80.78L434.10 80.83L434.60 80.79L435.10 80.68L435.60 80.49L436.10 80.22L436.60 79.88L437.10 79.49L437.60 79.04L438.10 78.57L438.60 78.07L439.10 77.58L439.60 77.11L440.10 76.69L440.60 76.32L441.10 76.03L441.60 75.82L442.10 75.72L442.60 75.73L443.10 75.84L443.60 76.05L444.10 76.36L444.60 76.75L445.10 77.21L445.60 77.72L446.10 78.27L446.60 78.84L447.10 79.41L447.60 79.97L448.10 80.50L448.60 81.00L449.10 81.46L449.60 81.87L450.10 82.23L450.60 82.55L451.10 82.81L451.60 83.04L452.10 83.22L452.60 83.37L453.10 83.49L453.60 83.58L454.10 83.65L454.60 83.70L455.10 83.74L455.60 83.77L456.10 83.80L456.60 83.81L456.90 83.82" fill="none" stroke="#aa3442" stroke-width="1.85" stroke-linejoin="round" stroke-linecap="square"/>
<path d="M274.00 64.06L274.50 63.97L275.00 63.85L275.50 63.69L276.00 63.47L276.50 63.20L277.00 62.85L277.50 62.41L278.00 61.86L278.50 61.20L279.00 60.39L279.50 59.44L280.00 58.34L280.50 57.07L281.00 55.64L281.50 54.07L282.00 52.35L282.50 50.53L283.00 48.63L283.50 46.70L284.00 44.77L284.50 42.91L285.00 41.17L285.50 39.61L286.00 38.28L286.50 37.22L287.00 36.48L287.50 36.08L288.00 36.04L288.50 36.36L289.00 37.03L289.50 38.02L290.00 39.29L290.50 40.81L291.00 42.51L291.50 44.35L292.00 46.27L292.50 48.20L293.00 50.11L293.50 51.96L294.00 53.70L294.50 55.30L295.00 56.77L295.50 58.07L296.00 59.21L296.50 60.19L297.00 61.03L297.50 61.72L298.00 62.29L298.50 62.76L299.00 63.12L299.50 63.41L300.00 63.63L300.50 63.79L301.00 63.90L301.50 63.98L302.00 64.02L302.50 64.03L303.00 64.01L303.50 63.97L304.00 63.89L304.50 63.79L305.00 63.64L305.50 63.46L306.00 63.23L306.50 62.95L307.00 62.62L307.50 62.23L308.00 61.79L308.50 61.29L309.00 60.75L309.50 60.16L310.00 59.55L310.50 58.93L311.00 58.31L311.50 57.71L312.00 57.16L312.50 56.67L313.00 56.27L313.50 55.97L314.00 55.78L314.50 55.71L315.00 55.77L315.50 55.95L316.00 56.24L316.50 56.63L317.00 57.11L317.50 57.66L318.00 58.25L318.50 58.87L319.00 59.49L319.50 60.11L320.00 60.69L320.50 61.24L321.00 61.75L321.50 62.19L322.00 62.59L322.50 62.93L323.00 63.21L323.50 63.45L324.00 63.64L324.50 63.79L325.00 63.91L325.50 64.00L326.00 64.07L326.50 64.12L327.00 64.15L327.50 64.16L328.00 64.17L328.50 64.16L329.00 64.14L329.50 64.11L330.00 64.06L330.50 64.01L331.00 63.93L331.50 63.84L332.00 63.73L332.50 63.59L333.00 63.42L333.50 63.23L334.00 63.00L334.50 62.74L335.00 62.44L335.50 62.10L336.00 61.72L336.50 61.31L337.00 60.86L337.50 60.39L338.00 59.89L338.50 59.37L339.00 58.85L339.50 58.33L340.00 57.82L340.50 57.34L341.00 56.90L341.50 56.50L342.00 56.16L342.50 55.88L343.00 55.68L343.50 55.57L344.00 55.53L344.50 55.58L345.00 55.72L345.50 55.93L346.00 56.22L346.50 56.57L347.00 56.98L347.50 57.43L348.00 57.92L348.50 58.43L349.00 58.95L349.50 59.47L350.00 59.98L350.50 60.48L351.00 60.95L351.50 61.39L352.00 61.79L352.50 62.16L353.00 62.49L353.50 62.78L354.00 63.04L354.50 63.26L355.00 63.44L355.50 63.60L356.00 63.72L356.50 63.82L357.00 63.88L357.50 63.92L358.00 63.93L358.50 63.91L359.00 63.85L359.50 63.76L360.00 63.62L360.50 63.42L361.00 63.15L361.50 62.82L362.00 62.39L362.50 61.87L363.00 61.25L363.50 60.51L364.00 59.67L364.50 58.71L365.00 57.64L365.50 56.49L366.00 55.27L366.50 54.01L367.00 52.74L367.50 51.50L368.00 50.33L368.50 49.28L369.00 48.38L369.50 47.67L370.00 47.18L370.50 46.93L371.00 46.93L371.50 47.19L372.00 47.68L372.50 48.39L373.00 49.29L373.50 50.35L374.00 51.51L374.50 52.74L375.00 54.00L375.50 55.25L376.00 56.44L376.50 57.56L377.00 58.57L377.50 59.46L378.00 60.21L378.50 60.82L379.00 61.26L379.50 61.55L380.00 61.66L380.50 61.61L381.00 61.37L381.50 60.95L382.00 60.33L382.50 59.51L383.00 58.48L383.50 57.23L384.00 55.77L384.50 54.11L385.00 52.25L385.50 50.23L386.00 48.08L386.50 45.84L387.00 43.57L387.50 41.33L388.00 39.18L388.50 37.20L389.00 35.44L389.50 33.97L390.00 32.85L390.50 32.09L391.00 31.74L391.50 31.78L392.00 32.22L392.50 33.00L393.00 34.08L393.50 35.41L394.00 36.92L394.50 38.53L395.00 40.17L395.50 41.78L396.00 43.31L396.50 44.72L397.00 45.98L397.50 47.07L398.00 48.01L398.50 48.81L399.00 49.50L399.50 50.11L400.00 50.68L400.50 51.23L401.00 51.80L401.50 52.42L402.00 53.08L402.50 53.81L403.00 54.60L403.50 55.43L404.00 56.29L404.50 57.17L405.00 58.02L405.50 58.85L406.00 59.63L406.50 60.33L407.00 60.96L407.50 61.49L408.00 61.94L408.50 62.30L409.00 62.57L409.50 62.75L410.00 62.86L410.50 62.90L411.00 62.88L411.50 62.80L412.00 62.67L412.50 62.50L413.00 62.29L413.50 62.05L414.00 61.77L414.50 61.47L415.00 61.15L415.50 60.82L416.00 60.47L416.50 60.12L417.00 59.77L417.50 59.42L418.00 59.08L418.50 58.77L419.00 58.47L419.50 58.21L420.00 57.98L420.50 57.79L421.00 57.64L421.50 57.55L422.00 57.49L422.50 57.49L423.00 57.54L423.50 57.64L424.00 57.78L424.50 57.96L425.00 58.18L425.50 58.43L426.00 58.70L426.50 58.99L427.00 59.29L427.50 59.59L428.00 59.88L428.50 60.16L429.00 60.42L429.50 60.65L430.00 60.84L430.50 60.99L431.00 61.10L431.50 61.16L432.00 61.16L432.50 61.11L433.00 61.01L433.50 60.85L434.00 60.65L434.50 60.40L435.00 60.12L435.50 59.80L436.00 59.46L436.50 59.11L437.00 58.75L437.50 58.41L438.00 58.08L438.50 57.79L439.00 57.54L439.50 57.34L440.00 57.19L440.50 57.11L441.00 57.09L441.50 57.14L442.00 57.26L442.50 57.44L443.00 57.69L443.50 57.98L444.00 58.32L444.50 58.70L445.00 59.10L445.50 59.52L446.00 59.95L446.50 60.38L447.00 60.80L447.50 61.20L448.00 61.59L448.50 61.95L449.00 62.28L449.50 62.58L450.00 62.85L450.50 63.09L451.00 63.29L451.50 63.47L452.00 63.63L452.50 63.75L453.00 63.86L453.50 63.95L454.00 64.02L454.20 64.04" fill="none" stroke="#d83c4e" stroke-width="1.85" stroke-linejoin="round" stroke-linecap="square"/>
<rect x="261.50" y="20.50" width="204.80" height="249.20" fill="none" stroke="#262626" stroke-width="1.11"/>
<line x1="265.00" y1="269.70" x2="265.00" y2="274.56" stroke="#262626" stroke-width="1.11"/>
<line x1="327.50" y1="269.70" x2="327.50" y2="274.56" stroke="#262626" stroke-width="1.11"/>
<line x1="390.00" y1="269.70" x2="390.00" y2="274.56" stroke="#262626" stroke-width="1.11"/>
<line x1="452.40" y1="269.70" x2="452.40" y2="274.56" stroke="#262626" stroke-width="1.11"/>
<line x1="256.64" y1="265.00" x2="261.50" y2="265.00" stroke="#262626" stroke-width="1.11"/>
<line x1="256.64" y1="213.15" x2="261.50" y2="213.15" stroke="#262626" stroke-width="1.11"/>
<line x1="256.64" y1="161.30" x2="261.50" y2="161.30" stroke="#262626" stroke-width="1.11"/>
<line x1="256.64" y1="109.45" x2="261.50" y2="109.45" stroke="#262626" stroke-width="1.11"/>
<line x1="256.64" y1="57.60" x2="261.50" y2="57.60" stroke="#262626" stroke-width="1.11"/>
<path d="M493.10 257.51L493.60 257.26L494.10 256.96L494.60 256.60L495.10 256.18L495.60 255.68L496.10 255.10L496.60 254.43L497.10 253.67L497.60 252.79L498.10 251.81L498.60 250.72L499.10 249.52L499.60 248.20L500.10 246.78L500.60 245.25L501.10 243.63L501.60 241.94L502.10 240.18L502.60 238.38L503.10 236.56L503.60 234.76L504.10 232.98L504.60 231.27L505.10 229.66L505.60 228.17L506.10 226.83L506.60 225.67L507.10 224.71L507.60 223.97L508.10 223.47L508.60 223.22L509.10 223.22L509.60 223.47L510.10 223.97L510.60 224.71L511.10 225.67L511.60 226.83L512.10 228.17L512.60 229.66L513.10 231.28L513.60 232.98L514.10 234.76L514.60 236.57L515.10 238.38L515.60 240.18L516.10 241.94L516.60 243.63L517.10 245.25L517.60 246.78L518.10 248.20L518.60 249.52L519.10 250.72L519.60 251.82L520.10 252.80L520.60 253.67L521.10 254.43L521.60 255.10L522.10 255.68L522.60 256.18L523.10 256.60L523.60 256.96L524.10 257.26L524.60 257.51L525.10 257.71L525.60 257.88L526.10 258.01L526.60 258.12L527.10 258.21L527.60 258.28L528.10 258.33L528.60 258.37L529.10 258.40L529.60 258.43L530.10 258.45L530.60 258.46L531.10 258.47L531.60 258.48L532.10 258.49L532.60 258.49L533.10 258.49L533.60 258.49L534.10 258.50L534.60 258.50L535.10 258.50L535.60 258.50L536.10 258.50L536.60 258.50L537.10 258.50L537.60 258.50L538.10 258.50L538.60 258.50L539.10 258.50L539.60 258.50L540.10 258.50L540.60 258.50L541.10 258.50L541.60 258.50L542.10 258.50L542.60 258.50L543.10 258.50L543.60 258.50L544.10 258.50L544.60 258.50L545.10 258.50L545.60 258.50L546.10 258.50L546.60 258.50L547.10 258.50L547.60 258.50L548.10 258.50L548.60 258.50L549.10 258.50L549.60 258.50L550.10 258.49L550.60 258.49L551.10 258.48L551.60 258.47L552.10 258.44L552.60 258.41L553.10 258.35L553.60 258.27L554.10 258.14L554.60 257.97L555.10 257.73L555.60 257.41L556.10 257.00L556.60 256.49L557.10 255.87L557.60 255.14L558.10 254.31L558.60 253.41L559.10 252.47L559.60 251.53L560.10 250.63L560.60 249.83L561.10 249.18L561.60 248.70L562.10 248.43L562.60 248.36L563.10 248.49L563.60 248.78L564.10 249.18L564.60 249.65L565.10 250.13L565.60 250.55L566.10 250.89L566.60 251.09L567.10 251.16L567.60 251.08L568.10 250.87L568.60 250.56L569.10 250.18L569.60 249.77L570.10 249.37L570.60 249.02L571.10 248.76L571.60 248.62L572.10 248.60L572.60 248.73L573.10 248.99L573.60 249.40L574.10 249.91L574.60 250.52L575.10 251.19L575.60 251.90L576.10 252.61L576.60 253.27L577.10 253.87L577.60 254.36L578.10 254.70L578.60 254.86L579.10 254.82L579.60 254.55L580.10 254.04L580.60 253.29L581.10 252.33L581.60 251.20L582.10 249.96L582.60 248.66L583.10 247.39L583.60 246.21L584.10 245.17L584.60 244.26L585.10 243.48L585.60 242.78L586.10 242.07L586.60 241.26L587.10 240.27L587.60 239.01L588.10 237.42L588.60 235.51L589.10 233.29L589.60 230.82L590.10 228.20L590.60 225.56L591.10 223.03L591.60 220.73L592.10 218.82L592.60 217.38L593.10 216.51L593.60 216.27L594.10 216.68L594.60 217.72L595.10 219.35L595.60 221.50L596.10 224.08L596.60 226.98L597.10 230.09L597.60 233.29L598.10 236.48L598.60 239.57L599.10 242.48L599.60 245.15L600.10 247.55L600.60 249.66L601.10 251.48L601.60 253.01L602.10 254.27L602.60 255.29L603.10 256.11L603.60 256.74L604.10 257.23L604.60 257.60L605.10 257.87L605.60 258.06L606.10 258.20L606.60 258.30L607.10 258.37L607.60 258.41L608.10 258.44L608.60 258.46L609.10 258.47L609.60 258.48L610.10 258.48L610.60 258.48L611.10 258.47L611.60 258.46L612.10 258.45L612.60 258.43L613.10 258.40L613.60 258.36L614.10 258.31L614.60 258.24L615.10 258.15L615.60 258.04L616.10 257.90L616.60 257.73L617.10 257.52L617.60 257.27L618.10 256.97L618.60 256.62L619.10 256.23L619.60 255.78L620.10 255.29L620.60 254.76L621.10 254.19L621.60 253.59L622.10 252.99L622.60 252.38L623.10 251.80L623.60 251.24L624.10 250.74L624.60 250.31L625.10 249.96L625.60 249.71L626.10 249.56L626.60 249.52L627.10 249.60L627.60 249.78L628.10 250.06L628.60 250.43L629.10 250.88L629.60 251.39L630.10 251.94L630.60 252.51L631.10 253.09L631.60 253.65L632.10 254.17L632.60 254.65L633.10 255.06L633.60 255.39L634.10 255.63L634.60 255.78L635.10 255.82L635.60 255.75L636.10 255.57L636.60 255.28L637.10 254.89L637.60 254.42L638.10 253.87L638.60 253.26L639.10 252.62L639.60 251.98L640.10 251.35L640.60 250.78L641.10 250.29L641.60 249.90L642.10 249.63L642.60 249.50L643.10 249.52L643.60 249.68L644.10 249.98L644.60 250.40L645.10 250.93L645.60 251.54L646.10 252.21L646.60 252.91L647.10 253.61L647.60 254.29L648.10 254.94L648.60 255.53L649.10 256.07L649.60 256.54L650.10 256.95L650.60 257.29L651.10 257.58L651.60 257.80L652.10 257.98L652.60 258.12L653.10 258.23L653.60 258.31L654.10 258.37L654.60 258.41L654.70 258.42" fill="none" stroke="#3472a4" stroke-width="1.85" stroke-linejoin="round" stroke-linecap="square"/>
<path d="M492.80 238.73L493.30 238.73L493.80 238.72L494.30 238.70L494.80 238.68L495.30 238.65L495.80 238.60L496.30 238.53L496.80 238.42L497.30 238.27L497.80 238.05L498.30 237.75L498.80 237.34L499.30 236.81L499.80 236.11L500.30 235.22L500.80 234.10L501.30 232.75L501.80 231.12L502.30 229.23L502.80 227.07L503.30 224.66L503.80 222.04L504.30 219.29L504.80 216.46L505.30 213.66L505.80 211.00L506.30 208.58L506.80 206.51L507.30 204.88L507.80 203.78L508.30 203.25L508.80 203.31L509.30 203.94L509.80 205.10L510.30 206.69L510.80 208.63L511.30 210.77L511.80 213.00L512.30 215.18L512.80 217.22L513.30 219.05L513.80 220.60L514.30 221.90L514.80 222.96L515.30 223.84L515.80 224.64L516.30 225.41L516.80 226.24L517.30 227.17L517.80 228.22L518.30 229.37L518.80 230.60L519.30 231.86L519.80 233.08L520.30 234.22L520.80 235.25L521.30 236.12L521.80 236.84L522.30 237.40L522.80 237.83L523.30 238.14L523.80 238.36L524.30 238.50L524.80 238.60L525.30 238.66L525.80 238.69L526.30 238.71L526.80 238.72L527.30 238.73L527.80 238.73L528.30 238.74L528.80 238.74L529.30 238.74L529.80 238.74L530.30 238.74L530.80 238.74L531.30 238.74L531.80 238.74L532.30 238.74L532.80 238.74L533.30 238.74L533.80 238.74L534.30 238.74L534.80 238.74L535.30 238.74L535.80 238.74L536.30 238.74L536.80 238.74L537.30 238.74L537.80 238.74L538.30 238.74L538.80 238.74L539.30 238.74L539.80 238.74L540.30 238.74L540.80 238.74L541.30 238.74L541.80 238.74L542.30 238.74L542.80 238.74L543.30 238.74L543.80 238.74L544.30 238.74L544.80 238.74L545.30 238.74L545.80 238.74L546.30 238.74L546.80 238.74L547.30 238.74L547.80 238.74L548.30 238.74L548.80 238.74L549.30 238.73L549.80 238.73L550.30 238.73L550.80 238.72L551.30 238.71L551.80 238.69L552.30 238.66L552.80 238.62L553.30 238.56L553.80 238.48L554.30 238.36L554.80 238.21L555.30 238.00L555.80 237.73L556.30 237.40L556.80 236.99L557.30 236.50L557.80 235.93L558.30 235.29L558.80 234.59L559.30 233.85L559.80 233.09L560.30 232.34L560.80 231.64L561.30 231.03L561.80 230.52L562.30 230.16L562.80 229.96L563.30 229.92L563.80 230.05L564.30 230.33L564.80 230.73L565.30 231.23L565.80 231.79L566.30 232.36L566.80 232.91L567.30 233.39L567.80 233.79L568.30 234.06L568.80 234.22L569.30 234.23L569.80 234.12L570.30 233.88L570.80 233.54L571.30 233.11L571.80 232.63L572.30 232.11L572.80 231.59L573.30 231.10L573.80 230.66L574.30 230.29L574.80 230.02L575.30 229.86L575.80 229.80L576.30 229.86L576.80 230.02L577.30 230.26L577.80 230.56L578.30 230.88L578.80 231.18L579.30 231.42L579.80 231.55L580.30 231.55L580.80 231.38L581.30 231.04L581.80 230.56L582.30 229.98L582.80 229.34L583.30 228.74L583.80 228.22L584.30 227.85L584.80 227.64L585.30 227.59L585.80 227.66L586.30 227.76L586.80 227.79L587.30 227.67L587.80 227.29L588.30 226.61L588.80 225.61L589.30 224.28L589.80 222.68L590.30 220.86L590.80 218.87L591.30 216.76L591.80 214.54L592.30 212.22L592.80 209.79L593.30 207.27L593.80 204.72L594.30 202.23L594.80 199.99L595.30 198.19L595.80 197.05L596.30 196.77L596.80 197.45L597.30 199.13L597.80 201.73L598.30 205.05L598.80 208.86L599.30 212.89L599.80 216.87L600.30 220.59L600.80 223.91L601.30 226.75L601.80 229.10L602.30 230.98L602.80 232.46L603.30 233.62L603.80 234.52L604.30 235.23L604.80 235.79L605.30 236.26L605.80 236.64L606.30 236.97L606.80 237.25L607.30 237.49L607.80 237.70L608.30 237.88L608.80 238.03L609.30 238.16L609.80 238.27L610.30 238.36L610.80 238.44L611.30 238.50L611.80 238.55L612.30 238.59L612.80 238.62L613.30 238.65L613.80 238.67L614.30 238.68L614.80 238.69L615.30 238.70L615.80 238.70L616.30 238.70L616.80 238.69L617.30 238.67L617.80 238.65L618.30 238.61L618.80 238.56L619.30 238.49L619.80 238.39L620.30 238.26L620.80 238.10L621.30 237.89L621.80 237.64L622.30 237.33L622.80 236.96L623.30 236.53L623.80 236.04L624.30 235.50L624.80 234.92L625.30 234.30L625.80 233.67L626.30 233.04L626.80 232.44L627.30 231.89L627.80 231.42L628.30 231.04L628.80 230.77L629.30 230.62L629.80 230.61L630.30 230.73L630.80 230.98L631.30 231.34L631.80 231.79L632.30 232.31L632.80 232.88L633.30 233.47L633.80 234.05L634.30 234.60L634.80 235.10L635.30 235.52L635.80 235.87L636.30 236.11L636.80 236.25L637.30 236.29L637.80 236.21L638.30 236.03L638.80 235.75L639.30 235.38L639.80 234.94L640.30 234.43L640.80 233.89L641.30 233.32L641.80 232.75L642.30 232.21L642.80 231.71L643.30 231.29L643.80 230.95L644.30 230.72L644.80 230.61L645.30 230.62L645.80 230.76L646.30 231.01L646.80 231.36L647.30 231.81L647.80 232.33L648.30 232.90L648.80 233.50L649.30 234.10L649.80 234.71L650.30 235.28L650.80 235.82L651.30 236.31L651.80 236.75L652.30 237.14L652.80 237.47L653.30 237.74L653.80 237.97L654.30 238.16L654.80 238.30L655.30 238.42L655.80 238.51L656.30 238.57L656.80 238.62L657.30 238.66L657.80 238.68L658.10 238.69" fill="none" stroke="#2e5d82" stroke-width="1.85" stroke-linejoin="round" stroke-linecap="square"/>
<path d="M492.40 212.41L492.90 212.39L493.40 212.36L493.90 212.32L494.40 212.27L494.90 212.19L495.40 212.09L495.90 211.95L496.40 211.76L496.90 211.52L497.40 211.20L497.90 210.80L498.40 210.31L498.90 209.69L499.40 208.95L499.90 208.05L500.40 207.00L500.90 205.77L501.40 204.38L501.90 202.81L502.40 201.07L502.90 199.20L503.40 197.20L503.90 195.12L504.40 193.00L504.90 190.89L505.40 188.84L505.90 186.92L506.40 185.19L506.90 183.69L507.40 182.49L507.90 181.62L508.40 181.12L508.90 181.01L509.40 181.27L509.90 181.92L510.40 182.91L510.90 184.21L511.40 185.76L511.90 187.52L512.40 189.40L512.90 191.35L513.40 193.30L513.90 195.18L514.40 196.94L514.90 198.54L515.40 199.93L515.90 201.09L516.40 202.03L516.90 202.75L517.40 203.27L517.90 203.62L518.40 203.86L518.90 204.01L519.40 204.14L519.90 204.29L520.40 204.49L520.90 204.77L521.40 205.14L521.90 205.61L522.40 206.17L522.90 206.79L523.40 207.45L523.90 208.13L524.40 208.80L524.90 209.43L525.40 210.01L525.90 210.52L526.40 210.96L526.90 211.32L527.40 211.62L527.90 211.85L528.40 212.03L528.90 212.16L529.40 212.25L529.90 212.32L530.40 212.37L530.90 212.40L531.40 212.42L531.90 212.43L532.40 212.44L532.90 212.44L533.40 212.45L533.90 212.45L534.40 212.45L534.90 212.45L535.40 212.45L535.90 212.45L536.40 212.45L536.90 212.45L537.40 212.45L537.90 212.45L538.40 212.45L538.90 212.45L539.40 212.45L539.90 212.45L540.40 212.45L540.90 212.45L541.40 212.45L541.90 212.45L542.40 212.45L542.90 212.45L543.40 212.45L543.90 212.45L544.40 212.45L544.90 212.45L545.40 212.45L545.90 212.45L546.40 212.45L546.90 212.45L547.40 212.45L547.90 212.45L548.40 212.44L548.90 212.44L549.40 212.44L549.90 212.43L550.40 212.42L550.90 212.40L551.40 212.37L551.90 212.33L552.40 212.28L552.90 212.20L553.40 212.09L553.90 211.95L554.40 211.76L554.90 211.52L555.40 211.22L555.90 210.86L556.40 210.43L556.90 209.93L557.40 209.37L557.90 208.76L558.40 208.11L558.90 207.44L559.40 206.78L559.90 206.15L560.40 205.58L560.90 205.10L561.40 204.73L561.90 204.48L562.40 204.36L562.90 204.37L563.40 204.51L563.90 204.74L564.40 205.06L564.90 205.42L565.40 205.80L565.90 206.15L566.40 206.46L566.90 206.69L567.40 206.83L567.90 206.86L568.40 206.79L568.90 206.61L569.40 206.34L569.90 206.00L570.40 205.60L570.90 205.18L571.40 204.76L571.90 204.36L572.40 204.01L572.90 203.74L573.40 203.55L573.90 203.45L574.40 203.46L574.90 203.57L575.40 203.77L575.90 204.05L576.40 204.40L576.90 204.78L577.40 205.18L577.90 205.57L578.40 205.92L578.90 206.21L579.40 206.40L579.90 206.48L580.40 206.43L580.90 206.25L581.40 205.92L581.90 205.44L582.40 204.84L582.90 204.11L583.40 203.29L583.90 202.38L584.40 201.44L584.90 200.46L585.40 199.49L585.90 198.53L586.40 197.60L586.90 196.67L587.40 195.72L587.90 194.72L588.40 193.62L588.90 192.35L589.40 190.88L589.90 189.17L590.40 187.24L590.90 185.13L591.40 182.93L591.90 180.77L592.40 178.82L592.90 177.23L593.40 176.13L593.90 175.60L594.40 175.69L594.90 176.35L595.40 177.50L595.90 179.00L596.40 180.72L596.90 182.52L597.40 184.31L597.90 186.02L598.40 187.62L598.90 189.11L599.40 190.50L599.90 191.83L600.40 193.14L600.90 194.44L601.40 195.75L601.90 197.07L602.40 198.40L602.90 199.73L603.40 201.05L603.90 202.32L604.40 203.55L604.90 204.70L605.40 205.77L605.90 206.76L606.40 207.64L606.90 208.43L607.40 209.13L607.90 209.72L608.40 210.23L608.90 210.66L609.40 211.01L609.90 211.30L610.40 211.52L610.90 211.70L611.40 211.82L611.90 211.91L612.40 211.96L612.90 211.97L613.40 211.96L613.90 211.92L614.40 211.85L614.90 211.76L615.40 211.64L615.90 211.49L616.40 211.32L616.90 211.12L617.40 210.90L617.90 210.64L618.40 210.36L618.90 210.06L619.40 209.73L619.90 209.39L620.40 209.02L620.90 208.65L621.40 208.27L621.90 207.88L622.40 207.50L622.90 207.14L623.40 206.79L623.90 206.47L624.40 206.18L624.90 205.93L625.40 205.72L625.90 205.57L626.40 205.47L626.90 205.42L627.40 205.43L627.90 205.49L628.40 205.61L628.90 205.78L629.40 206.00L629.90 206.25L630.40 206.54L630.90 206.85L631.40 207.17L631.90 207.50L632.40 207.82L632.90 208.13L633.40 208.40L633.90 208.64L634.40 208.83L634.90 208.97L635.40 209.04L635.90 209.04L636.40 208.97L636.90 208.82L637.40 208.61L637.90 208.32L638.40 207.99L638.90 207.60L639.40 207.19L639.90 206.77L640.40 206.36L640.90 205.97L641.40 205.64L641.90 205.38L642.40 205.19L642.90 205.10L643.40 205.11L643.90 205.23L644.40 205.44L644.90 205.75L645.40 206.13L645.90 206.59L646.40 207.09L646.90 207.61L647.40 208.16L647.90 208.69L648.40 209.21L648.90 209.70L649.40 210.15L649.90 210.56L650.40 210.91L650.90 211.22L651.40 211.48L651.90 211.70L652.40 211.88L652.90 212.02L653.40 212.13L653.90 212.22L654.40 212.28L654.90 212.33L655.40 212.37L655.90 212.39L656.40 212.41L656.90 212.42L657.40 212.43L657.90 212.44L658.40 212.44L658.80 212.44" fill="none" stroke="#294861" stroke-width="1.85" stroke-linejoin="round" stroke-linecap="square"/>
<path d="M492.40 186.24L492.90 186.19L493.40 186.13L493.90 186.04L494.40 185.93L494.90 185.79L495.40 185.62L495.90 185.39L496.40 185.11L496.90 184.77L497.40 184.35L497.90 183.85L498.40 183.26L498.90 182.56L499.40 181.76L499.90 180.84L500.40 179.80L500.90 178.64L501.40 177.37L501.90 175.99L502.40 174.52L502.90 172.97L503.40 171.37L503.90 169.74L504.40 168.11L504.90 166.52L505.40 164.99L505.90 163.57L506.40 162.28L506.90 161.16L507.40 160.22L507.90 159.50L508.40 159.00L508.90 158.74L509.40 158.71L509.90 158.91L510.40 159.31L510.90 159.91L511.40 160.68L511.90 161.58L512.40 162.59L512.90 163.67L513.40 164.81L513.90 165.96L514.40 167.10L514.90 168.23L515.40 169.31L515.90 170.35L516.40 171.33L516.90 172.25L517.40 173.12L517.90 173.94L518.40 174.72L518.90 175.46L519.40 176.17L519.90 176.85L520.40 177.52L520.90 178.18L521.40 178.82L521.90 179.44L522.40 180.06L522.90 180.65L523.40 181.23L523.90 181.79L524.40 182.31L524.90 182.81L525.40 183.27L525.90 183.70L526.40 184.09L526.90 184.44L527.40 184.75L527.90 185.03L528.40 185.27L528.90 185.47L529.40 185.65L529.90 185.79L530.40 185.91L530.90 186.01L531.40 186.09L531.90 186.16L532.40 186.21L532.90 186.25L533.40 186.28L533.90 186.30L534.40 186.32L534.90 186.33L535.40 186.34L535.90 186.35L536.40 186.35L536.90 186.36L537.40 186.36L537.90 186.36L538.40 186.36L538.90 186.37L539.40 186.37L539.90 186.37L540.40 186.37L540.90 186.37L541.40 186.37L541.90 186.37L542.40 186.37L542.90 186.37L543.40 186.37L543.90 186.37L544.40 186.37L544.90 186.37L545.40 186.37L545.90 186.37L546.40 186.37L546.90 186.36L547.40 186.36L547.90 186.36L548.40 186.36L548.90 186.35L549.40 186.35L549.90 186.34L550.40 186.32L550.90 186.30L551.40 186.28L551.90 186.25L552.40 186.20L552.90 186.15L553.40 186.08L553.90 185.99L554.40 185.88L554.90 185.75L555.40 185.59L555.90 185.40L556.40 185.18L556.90 184.92L557.40 184.64L557.90 184.32L558.40 183.97L558.90 183.60L559.40 183.22L559.90 182.82L560.40 182.43L560.90 182.04L561.40 181.67L561.90 181.34L562.40 181.04L562.90 180.80L563.40 180.62L563.90 180.50L564.40 180.46L564.90 180.48L565.40 180.56L565.90 180.71L566.40 180.92L566.90 181.17L567.40 181.45L567.90 181.74L568.40 182.05L568.90 182.34L569.40 182.62L569.90 182.86L570.40 183.05L570.90 183.19L571.40 183.26L571.90 183.27L572.40 183.20L572.90 183.05L573.40 182.83L573.90 182.53L574.40 182.16L574.90 181.72L575.40 181.21L575.90 180.65L576.40 180.03L576.90 179.38L577.40 178.70L577.90 178.01L578.40 177.31L578.90 176.62L579.40 175.96L579.90 175.33L580.40 174.75L580.90 174.24L581.40 173.81L581.90 173.46L582.40 173.21L582.90 173.05L583.40 173.00L583.90 173.05L584.40 173.21L584.90 173.46L585.40 173.80L585.90 174.22L586.40 174.71L586.90 175.25L587.40 175.83L587.90 176.42L588.40 177.01L588.90 177.57L589.40 178.09L589.90 178.54L590.40 178.88L590.90 179.11L591.40 179.19L591.90 179.10L592.40 178.81L592.90 178.31L593.40 177.58L593.90 176.60L594.40 175.38L594.90 173.91L595.40 172.20L595.90 170.28L596.40 168.18L596.90 165.93L597.40 163.59L597.90 161.22L598.40 158.89L598.90 156.67L599.40 154.63L599.90 152.84L600.40 151.36L600.90 150.25L601.40 149.55L601.90 149.29L602.40 149.47L602.90 150.09L603.40 151.11L603.90 152.51L604.40 154.23L604.90 156.20L605.40 158.36L605.90 160.64L606.40 162.98L606.90 165.31L607.40 167.57L607.90 169.72L608.40 171.74L608.90 173.59L609.40 175.26L609.90 176.76L610.40 178.09L610.90 179.25L611.40 180.26L611.90 181.14L612.40 181.91L612.90 182.57L613.40 183.15L613.90 183.65L614.40 184.09L614.90 184.47L615.40 184.81L615.90 185.09L616.40 185.34L616.90 185.54L617.40 185.72L617.90 185.86L618.40 185.98L618.90 186.07L619.40 186.13L619.90 186.18L620.40 186.21L620.90 186.23L621.40 186.23L621.90 186.21L622.40 186.18L622.90 186.13L623.40 186.06L623.90 185.97L624.40 185.85L624.90 185.71L625.40 185.53L625.90 185.31L626.40 185.06L626.90 184.76L627.40 184.43L627.90 184.05L628.40 183.63L628.90 183.18L629.40 182.71L629.90 182.21L630.40 181.71L630.90 181.21L631.40 180.73L631.90 180.29L632.40 179.89L632.90 179.56L633.40 179.30L633.90 179.11L634.40 179.01L634.90 179.00L635.40 179.08L635.90 179.23L636.40 179.46L636.90 179.73L637.40 180.05L637.90 180.39L638.40 180.73L638.90 181.06L639.40 181.35L639.90 181.59L640.40 181.77L640.90 181.87L641.40 181.89L641.90 181.83L642.40 181.68L642.90 181.46L643.40 181.18L643.90 180.85L644.40 180.49L644.90 180.11L645.40 179.75L645.90 179.41L646.40 179.12L646.90 178.90L647.40 178.76L647.90 178.71L648.40 178.75L648.90 178.89L649.40 179.13L649.90 179.45L650.40 179.84L650.90 180.30L651.40 180.80L651.90 181.33L652.40 181.87L652.90 182.40L653.40 182.93L653.90 183.42L654.40 183.88L654.90 184.29L655.40 184.66L655.90 184.98L656.40 185.26L656.90 185.49L657.40 185.69L657.90 185.85L658.40 185.97L658.90 186.07L659.40 186.15L659.90 186.21L660.40 186.25L660.90 186.29L661.40 186.31L661.80 186.33" fill="none" stroke="#243340" stroke-width="1.85" stroke-linejoin="round" stroke-linecap="square"/>
<path d="M492.40 160.32L492.90 160.31L493.40 160.30L493.90 160.29L494.40 160.27L494.90 160.25L495.40 160.21L495.90 160.15L496.40 160.06L496.90 159.93L497.40 159.76L497.90 159.52L498.40 159.20L498.90 158.77L499.40 158.21L499.90 157.51L500.40 156.62L500.90 155.54L501.40 154.24L501.90 152.71L502.40 150.95L502.90 148.98L503.40 146.81L503.90 144.49L504.40 142.07L504.90 139.62L505.40 137.22L505.90 134.97L506.40 132.94L506.90 131.24L507.40 129.93L507.90 129.07L508.40 128.71L508.90 128.87L509.40 129.53L509.90 130.67L510.40 132.23L510.90 134.14L511.40 136.31L511.90 138.65L512.40 141.08L512.90 143.51L513.40 145.86L513.90 148.07L514.40 150.09L514.90 151.90L515.40 153.47L515.90 154.81L516.40 155.90L516.90 156.78L517.40 157.46L517.90 157.95L518.40 158.29L518.90 158.49L519.40 158.58L519.90 158.57L520.40 158.49L520.90 158.33L521.40 158.12L521.90 157.86L522.40 157.57L522.90 157.25L523.40 156.91L523.90 156.55L524.40 156.19L524.90 155.84L525.40 155.49L525.90 155.16L526.40 154.85L526.90 154.58L527.40 154.34L527.90 154.15L528.40 154.01L528.90 153.93L529.40 153.90L529.90 153.93L530.40 154.01L530.90 154.14L531.40 154.33L531.90 154.56L532.40 154.83L532.90 155.14L533.40 155.47L533.90 155.82L534.40 156.18L534.90 156.55L535.40 156.91L535.90 157.27L536.40 157.61L536.90 157.93L537.40 158.24L537.90 158.52L538.40 158.78L538.90 159.01L539.40 159.22L539.90 159.40L540.40 159.56L540.90 159.70L541.40 159.81L541.90 159.91L542.40 159.99L542.90 160.06L543.40 160.11L543.90 160.16L544.40 160.19L544.90 160.21L545.40 160.23L545.90 160.24L546.40 160.24L546.90 160.23L547.40 160.22L547.90 160.19L548.40 160.16L548.90 160.11L549.40 160.04L549.90 159.96L550.40 159.86L550.90 159.73L551.40 159.57L551.90 159.38L552.40 159.16L552.90 158.91L553.40 158.62L553.90 158.29L554.40 157.92L554.90 157.52L555.40 157.09L555.90 156.64L556.40 156.17L556.90 155.70L557.40 155.23L557.90 154.79L558.40 154.37L558.90 153.99L559.40 153.66L559.90 153.40L560.40 153.21L560.90 153.10L561.40 153.07L561.90 153.13L562.40 153.26L562.90 153.47L563.40 153.76L563.90 154.10L564.40 154.49L564.90 154.91L565.40 155.36L565.90 155.82L566.40 156.27L566.90 156.72L567.40 157.13L567.90 157.51L568.40 157.84L568.90 158.12L569.40 158.34L569.90 158.49L570.40 158.58L570.90 158.58L571.40 158.50L571.90 158.34L572.40 158.08L572.90 157.73L573.40 157.29L573.90 156.74L574.40 156.09L574.90 155.35L575.40 154.52L575.90 153.61L576.40 152.63L576.90 151.61L577.40 150.55L577.90 149.50L578.40 148.46L578.90 147.48L579.40 146.58L579.90 145.78L580.40 145.12L580.90 144.61L581.40 144.28L581.90 144.13L582.40 144.17L582.90 144.39L583.40 144.80L583.90 145.37L584.40 146.09L584.90 146.92L585.40 147.85L585.90 148.84L586.40 149.86L586.90 150.88L587.40 151.88L587.90 152.81L588.40 153.66L588.90 154.40L589.40 155.01L589.90 155.48L590.40 155.79L590.90 155.92L591.40 155.85L591.90 155.59L592.40 155.11L592.90 154.41L593.40 153.48L593.90 152.32L594.40 150.95L594.90 149.36L595.40 147.58L595.90 145.63L596.40 143.55L596.90 141.38L597.40 139.17L597.90 136.98L598.40 134.87L598.90 132.90L599.40 131.12L599.90 129.60L600.40 128.37L600.90 127.49L601.40 126.96L601.90 126.81L602.40 127.02L602.90 127.58L603.40 128.46L603.90 129.61L604.40 130.99L604.90 132.55L605.40 134.23L605.90 135.97L606.40 137.73L606.90 139.47L607.40 141.15L607.90 142.75L608.40 144.25L608.90 145.64L609.40 146.91L609.90 148.08L610.40 149.15L610.90 150.13L611.40 151.03L611.90 151.86L612.40 152.63L612.90 153.36L613.40 154.04L613.90 154.68L614.40 155.29L614.90 155.86L615.40 156.39L615.90 156.89L616.40 157.35L616.90 157.77L617.40 158.15L617.90 158.49L618.40 158.79L618.90 159.05L619.40 159.28L619.90 159.46L620.40 159.61L620.90 159.73L621.40 159.81L621.90 159.86L622.40 159.87L622.90 159.85L623.40 159.79L623.90 159.69L624.40 159.54L624.90 159.34L625.40 159.08L625.90 158.76L626.40 158.39L626.90 157.95L627.40 157.46L627.90 156.92L628.40 156.33L628.90 155.72L629.40 155.09L629.90 154.48L630.40 153.89L630.90 153.37L631.40 152.91L631.90 152.55L632.40 152.30L632.90 152.18L633.40 152.18L633.90 152.30L634.40 152.54L634.90 152.89L635.40 153.31L635.90 153.80L636.40 154.33L636.90 154.86L637.40 155.39L637.90 155.87L638.40 156.30L638.90 156.66L639.40 156.94L639.90 157.12L640.40 157.21L640.90 157.20L641.40 157.10L641.90 156.92L642.40 156.66L642.90 156.33L643.40 155.95L643.90 155.52L644.40 155.08L644.90 154.62L645.40 154.16L645.90 153.73L646.40 153.33L646.90 152.98L647.40 152.69L647.90 152.47L648.40 152.32L648.90 152.26L649.40 152.29L649.90 152.40L650.40 152.59L650.90 152.85L651.40 153.19L651.90 153.58L652.40 154.01L652.90 154.49L653.40 154.98L653.90 155.48L654.40 155.99L654.90 156.48L655.40 156.95L655.90 157.40L656.40 157.81L656.90 158.19L657.40 158.53L657.90 158.83L658.40 159.10L658.90 159.32L659.40 159.52L659.90 159.68L660.40 159.82L660.90 159.93L661.40 160.02L661.90 160.09L662.40 160.15L662.90 160.19L663.20 160.21" fill="none" stroke="#1e1e1e" stroke-width="1.85" stroke-linejoin="round" stroke-linecap="square"/>
<path d="M492.40 134.12L492.90 134.11L493.40 134.08L493.90 134.04L494.40 133.99L494.90 133.91L495.40 133.82L495.90 133.69L496.40 133.52L496.90 133.31L497.40 133.03L497.90 132.69L498.40 132.26L498.90 131.73L499.40 131.09L499.90 130.34L500.40 129.45L500.90 128.42L501.40 127.24L501.90 125.93L502.40 124.47L502.90 122.89L503.40 121.20L503.90 119.43L504.40 117.61L504.90 115.78L505.40 113.98L505.90 112.26L506.40 110.66L506.90 109.24L507.40 108.03L507.90 107.08L508.40 106.41L508.90 106.06L509.40 106.03L509.90 106.32L510.40 106.92L510.90 107.81L511.40 108.97L511.90 110.36L512.40 111.92L512.90 113.62L513.40 115.41L513.90 117.23L514.40 119.05L514.90 120.82L515.40 122.52L515.90 124.11L516.40 125.57L516.90 126.88L517.40 128.05L517.90 129.05L518.40 129.91L518.90 130.61L519.40 131.16L519.90 131.59L520.40 131.88L520.90 132.06L521.40 132.13L521.90 132.10L522.40 131.99L522.90 131.79L523.40 131.51L523.90 131.17L524.40 130.78L524.90 130.34L525.40 129.86L525.90 129.36L526.40 128.84L526.90 128.33L527.40 127.83L527.90 127.36L528.40 126.93L528.90 126.55L529.40 126.24L529.90 126.01L530.40 125.87L530.90 125.81L531.40 125.84L531.90 125.97L532.40 126.18L532.90 126.46L533.40 126.82L533.90 127.24L534.40 127.71L534.90 128.21L535.40 128.73L535.90 129.26L536.40 129.79L536.90 130.30L537.40 130.79L537.90 131.25L538.40 131.67L538.90 132.06L539.40 132.40L539.90 132.71L540.40 132.97L540.90 133.20L541.40 133.39L541.90 133.55L542.40 133.68L542.90 133.79L543.40 133.87L543.90 133.94L544.40 133.99L544.90 134.02L545.40 134.05L545.90 134.06L546.40 134.07L546.90 134.06L547.40 134.05L547.90 134.03L548.40 134.00L548.90 133.96L549.40 133.91L549.90 133.84L550.40 133.76L550.90 133.67L551.40 133.56L551.90 133.43L552.40 133.28L552.90 133.11L553.40 132.92L553.90 132.70L554.40 132.46L554.90 132.19L555.40 131.90L555.90 131.59L556.40 131.26L556.90 130.91L557.40 130.55L557.90 130.18L558.40 129.82L558.90 129.45L559.40 129.10L559.90 128.77L560.40 128.46L560.90 128.18L561.40 127.94L561.90 127.74L562.40 127.59L562.90 127.49L563.40 127.44L563.90 127.45L564.40 127.51L564.90 127.63L565.40 127.79L565.90 128.00L566.40 128.25L566.90 128.54L567.40 128.86L567.90 129.20L568.40 129.55L568.90 129.91L569.40 130.28L569.90 130.64L570.40 131.00L570.90 131.33L571.40 131.65L571.90 131.95L572.40 132.22L572.90 132.46L573.40 132.67L573.90 132.84L574.40 132.97L574.90 133.07L575.40 133.11L575.90 133.10L576.40 133.04L576.90 132.91L577.40 132.71L577.90 132.44L578.40 132.08L578.90 131.63L579.40 131.08L579.90 130.43L580.40 129.69L580.90 128.84L581.40 127.90L581.90 126.89L582.40 125.81L582.90 124.70L583.40 123.57L583.90 122.46L584.40 121.40L584.90 120.42L585.40 119.56L585.90 118.85L586.40 118.31L586.90 117.96L587.40 117.82L587.90 117.90L588.40 118.18L588.90 118.66L589.40 119.33L589.90 120.14L590.40 121.09L590.90 122.12L591.40 123.22L591.90 124.34L592.40 125.45L592.90 126.53L593.40 127.54L593.90 128.46L594.40 129.27L594.90 129.95L595.40 130.49L595.90 130.88L596.40 131.08L596.90 131.10L597.40 130.91L597.90 130.49L598.40 129.82L598.90 128.89L599.40 127.68L599.90 126.19L600.40 124.41L600.90 122.36L601.40 120.08L601.90 117.60L602.40 115.00L602.90 112.34L603.40 109.73L603.90 107.25L604.40 105.02L604.90 103.12L605.40 101.63L605.90 100.63L606.40 100.15L606.90 100.19L607.40 100.75L607.90 101.78L608.40 103.20L608.90 104.95L609.40 106.91L609.90 109.00L610.40 111.12L610.90 113.19L611.40 115.14L611.90 116.92L612.40 118.49L612.90 119.86L613.40 121.02L613.90 121.98L614.40 122.77L614.90 123.43L615.40 123.98L615.90 124.47L616.40 124.90L616.90 125.33L617.40 125.75L617.90 126.18L618.40 126.64L618.90 127.12L619.40 127.62L619.90 128.13L620.40 128.66L620.90 129.18L621.40 129.70L621.90 130.20L622.40 130.68L622.90 131.12L623.40 131.51L623.90 131.87L624.40 132.17L624.90 132.41L625.40 132.59L625.90 132.71L626.40 132.76L626.90 132.74L627.40 132.64L627.90 132.47L628.40 132.23L628.90 131.91L629.40 131.52L629.90 131.06L630.40 130.54L630.90 129.98L631.40 129.39L631.90 128.79L632.40 128.19L632.90 127.63L633.40 127.12L633.90 126.69L634.40 126.35L634.90 126.12L635.40 126.01L635.90 126.02L636.40 126.15L636.90 126.40L637.40 126.74L637.90 127.16L638.40 127.64L638.90 128.16L639.40 128.69L639.90 129.20L640.40 129.67L640.90 130.09L641.40 130.44L641.90 130.70L642.40 130.88L642.90 130.95L643.40 130.94L643.90 130.83L644.40 130.64L644.90 130.37L645.40 130.03L645.90 129.64L646.40 129.21L646.90 128.76L647.40 128.29L647.90 127.84L648.40 127.41L648.90 127.01L649.40 126.66L649.90 126.38L650.40 126.17L650.90 126.04L651.40 125.99L651.90 126.04L652.40 126.16L652.90 126.37L653.40 126.66L653.90 127.01L654.40 127.42L654.90 127.87L655.40 128.36L655.90 128.86L656.40 129.38L656.90 129.89L657.40 130.38L657.90 130.86L658.40 131.30L658.90 131.72L659.40 132.09L659.90 132.43L660.40 132.73L660.90 132.98L661.40 133.21L661.90 133.40L662.40 133.56L662.90 133.69L663.40 133.79L663.90 133.88L664.40 133.95L664.90 134.00L665.40 134.04" fill="none" stroke="#4c262a" stroke-width="1.85" stroke-linejoin="round" stroke-linecap="square"/>
<path d="M493.10 107.83L493.60 107.77L494.10 107.69L494.60 107.58L495.10 107.44L495.60 107.25L496.10 107.03L496.60 106.74L497.10 106.39L497.60 105.96L498.10 105.45L498.60 104.83L499.10 104.11L499.60 103.27L500.10 102.31L500.60 101.21L501.10 99.99L501.60 98.64L502.10 97.17L502.60 95.59L503.10 93.92L503.60 92.19L504.10 90.42L504.60 88.64L505.10 86.89L505.60 85.21L506.10 83.64L506.60 82.22L507.10 80.98L507.60 79.97L508.10 79.20L508.60 78.70L509.10 78.48L509.60 78.56L510.10 78.93L510.60 79.57L511.10 80.47L511.60 81.61L512.10 82.95L512.60 84.45L513.10 86.08L513.60 87.80L514.10 89.57L514.60 91.34L515.10 93.09L515.60 94.79L516.10 96.40L516.60 97.91L517.10 99.30L517.60 100.56L518.10 101.69L518.60 102.68L519.10 103.53L519.60 104.24L520.10 104.83L520.60 105.30L521.10 105.66L521.60 105.91L522.10 106.07L522.60 106.14L523.10 106.13L523.60 106.04L524.10 105.89L524.60 105.67L525.10 105.41L525.60 105.09L526.10 104.74L526.60 104.35L527.10 103.95L527.60 103.52L528.10 103.10L528.60 102.68L529.10 102.27L529.60 101.89L530.10 101.55L530.60 101.26L531.10 101.02L531.60 100.84L532.10 100.73L532.60 100.69L533.10 100.72L533.60 100.82L534.10 100.99L534.60 101.22L535.10 101.50L535.60 101.84L536.10 102.22L536.60 102.62L537.10 103.05L537.60 103.49L538.10 103.92L538.60 104.36L539.10 104.77L539.60 105.17L540.10 105.55L540.60 105.89L541.10 106.21L541.60 106.49L542.10 106.74L542.60 106.96L543.10 107.15L543.60 107.31L544.10 107.44L544.60 107.56L545.10 107.65L545.60 107.72L546.10 107.78L546.60 107.82L547.10 107.85L547.60 107.86L548.10 107.87L548.60 107.86L549.10 107.85L549.60 107.82L550.10 107.78L550.60 107.72L551.10 107.65L551.60 107.56L552.10 107.45L552.60 107.32L553.10 107.16L553.60 106.98L554.10 106.77L554.60 106.53L555.10 106.26L555.60 105.96L556.10 105.63L556.60 105.28L557.10 104.89L557.60 104.49L558.10 104.07L558.60 103.65L559.10 103.22L559.60 102.80L560.10 102.40L560.60 102.02L561.10 101.67L561.60 101.37L562.10 101.11L562.60 100.91L563.10 100.78L563.60 100.71L564.10 100.71L564.60 100.77L565.10 100.90L565.60 101.10L566.10 101.35L566.60 101.65L567.10 101.99L567.60 102.37L568.10 102.77L568.60 103.19L569.10 103.62L569.60 104.04L570.10 104.46L570.60 104.86L571.10 105.24L571.60 105.59L572.10 105.91L572.60 106.20L573.10 106.46L573.60 106.67L574.10 106.85L574.60 106.98L575.10 107.08L575.60 107.12L576.10 107.13L576.60 107.08L577.10 106.97L577.60 106.81L578.10 106.58L578.60 106.29L579.10 105.91L579.60 105.46L580.10 104.93L580.60 104.31L581.10 103.60L581.60 102.82L582.10 101.96L582.60 101.03L583.10 100.06L583.60 99.05L584.10 98.03L584.60 97.03L585.10 96.06L585.60 95.16L586.10 94.35L586.60 93.67L587.10 93.12L587.60 92.73L588.10 92.52L588.60 92.48L589.10 92.63L589.60 92.96L590.10 93.44L590.60 94.08L591.10 94.84L591.60 95.69L592.10 96.62L592.60 97.60L593.10 98.58L593.60 99.55L594.10 100.47L594.60 101.32L595.10 102.08L595.60 102.72L596.10 103.22L596.60 103.56L597.10 103.74L597.60 103.72L598.10 103.50L598.60 103.07L599.10 102.40L599.60 101.50L600.10 100.37L600.60 99.00L601.10 97.42L601.60 95.63L602.10 93.68L602.60 91.60L603.10 89.45L603.60 87.28L604.10 85.16L604.60 83.16L605.10 81.36L605.60 79.82L606.10 78.60L606.60 77.74L607.10 77.29L607.60 77.24L608.10 77.62L608.60 78.38L609.10 79.49L609.60 80.91L610.10 82.55L610.60 84.36L611.10 86.25L611.60 88.15L612.10 89.99L612.60 91.71L613.10 93.27L613.60 94.63L614.10 95.78L614.60 96.71L615.10 97.44L615.60 97.98L616.10 98.37L616.60 98.64L617.10 98.83L617.60 98.99L618.10 99.14L618.60 99.32L619.10 99.55L619.60 99.85L620.10 100.22L620.60 100.66L621.10 101.15L621.60 101.70L622.10 102.27L622.60 102.86L623.10 103.43L623.60 103.97L624.10 104.46L624.60 104.90L625.10 105.26L625.60 105.55L626.10 105.77L626.60 105.91L627.10 105.97L627.60 105.96L628.10 105.89L628.60 105.77L629.10 105.59L629.60 105.37L630.10 105.12L630.60 104.83L631.10 104.52L631.60 104.20L632.10 103.86L632.60 103.53L633.10 103.20L633.60 102.87L634.10 102.57L634.60 102.28L635.10 102.03L635.60 101.80L636.10 101.61L636.60 101.46L637.10 101.35L637.60 101.29L638.10 101.26L638.60 101.27L639.10 101.33L639.60 101.41L640.10 101.52L640.60 101.65L641.10 101.80L641.60 101.96L642.10 102.12L642.60 102.28L643.10 102.42L643.60 102.54L644.10 102.64L644.60 102.72L645.10 102.76L645.60 102.77L646.10 102.75L646.60 102.69L647.10 102.61L647.60 102.49L648.10 102.36L648.60 102.21L649.10 102.06L649.60 101.90L650.10 101.74L650.60 101.60L651.10 101.48L651.60 101.38L652.10 101.31L652.60 101.28L653.10 101.29L653.60 101.34L654.10 101.44L654.60 101.57L655.10 101.75L655.60 101.97L656.10 102.22L656.60 102.50L657.10 102.81L657.60 103.13L658.10 103.47L658.60 103.82L659.10 104.17L659.60 104.52L660.10 104.86L660.60 105.19L661.10 105.51L661.60 105.80L662.10 106.08L662.60 106.33L663.10 106.57L663.60 106.78L664.10 106.96L664.60 107.13L665.10 107.27L665.60 107.40L666.10 107.51L666.60 107.60L667.10 107.68L667.60 107.74L668.10 107.80L668.30 107.82" fill="none" stroke="#7b2d36" stroke-width="1.85" stroke-linejoin="round" stroke-linecap="square"/>
<path d="M488.00 81.25L488.50 81.24L489.00 81.24L489.50 81.24L490.00 81.24L490.50 81.23L491.00 81.23L491.50 81.22L492.00 81.21L492.50 81.19L493.00 81.17L493.50 81.15L494.00 81.11L494.50 81.06L495.00 80.99L495.50 80.91L496.00 80.79L496.50 80.65L497.00 80.48L497.50 80.26L498.00 79.99L498.50 79.66L499.00 79.26L499.50 78.79L500.00 78.23L500.50 77.58L501.00 76.84L501.50 75.99L502.00 75.05L502.50 74.00L503.00 72.86L503.50 71.63L504.00 70.32L504.50 68.96L505.00 67.55L505.50 66.13L506.00 64.73L506.50 63.36L507.00 62.06L507.50 60.87L508.00 59.81L508.50 58.90L509.00 58.19L509.50 57.67L510.00 57.37L510.50 57.30L511.00 57.46L511.50 57.84L512.00 58.43L512.50 59.22L513.00 60.19L513.50 61.30L514.00 62.54L514.50 63.86L515.00 65.25L515.50 66.67L516.00 68.08L516.50 69.47L517.00 70.82L517.50 72.10L518.00 73.30L518.50 74.41L519.00 75.41L519.50 76.32L520.00 77.13L520.50 77.83L521.00 78.45L521.50 78.97L522.00 79.41L522.50 79.78L523.00 80.09L523.50 80.33L524.00 80.53L524.50 80.68L525.00 80.78L525.50 80.85L526.00 80.88L526.50 80.88L527.00 80.83L527.50 80.73L528.00 80.58L528.50 80.37L529.00 80.09L529.50 79.73L530.00 79.30L530.50 78.79L531.00 78.20L531.50 77.55L532.00 76.85L532.50 76.14L533.00 75.42L533.50 74.75L534.00 74.16L534.50 73.67L535.00 73.32L535.50 73.13L536.00 73.11L536.50 73.27L537.00 73.59L537.50 74.05L538.00 74.62L538.50 75.28L539.00 75.99L539.50 76.71L540.00 77.41L540.50 78.08L541.00 78.68L541.50 79.22L542.00 79.67L542.50 80.05L543.00 80.36L543.50 80.60L544.00 80.79L544.50 80.93L545.00 81.03L545.50 81.10L546.00 81.15L546.50 81.19L547.00 81.21L547.50 81.22L548.00 81.23L548.50 81.24L549.00 81.24L549.50 81.24L550.00 81.23L550.50 81.23L551.00 81.22L551.50 81.21L552.00 81.19L552.50 81.17L553.00 81.14L553.50 81.09L554.00 81.04L554.50 80.96L555.00 80.87L555.50 80.75L556.00 80.60L556.50 80.42L557.00 80.20L557.50 79.95L558.00 79.65L558.50 79.30L559.00 78.92L559.50 78.49L560.00 78.04L560.50 77.55L561.00 77.05L561.50 76.55L562.00 76.06L562.50 75.59L563.00 75.17L563.50 74.80L564.00 74.50L564.50 74.28L565.00 74.14L565.50 74.11L566.00 74.17L566.50 74.32L567.00 74.56L567.50 74.88L568.00 75.26L568.50 75.70L569.00 76.17L569.50 76.67L570.00 77.17L570.50 77.67L571.00 78.15L571.50 78.60L572.00 79.01L572.50 79.38L573.00 79.72L573.50 80.00L574.00 80.25L574.50 80.45L575.00 80.62L575.50 80.74L576.00 80.84L576.50 80.91L577.00 80.94L577.50 80.95L578.00 80.93L578.50 80.88L579.00 80.79L579.50 80.67L580.00 80.51L580.50 80.31L581.00 80.04L581.50 79.72L582.00 79.34L582.50 78.88L583.00 78.35L583.50 77.75L584.00 77.06L584.50 76.31L585.00 75.48L585.50 74.61L586.00 73.69L586.50 72.76L587.00 71.82L587.50 70.91L588.00 70.05L588.50 69.26L589.00 68.58L589.50 68.02L590.00 67.60L590.50 67.35L591.00 67.25L591.50 67.33L592.00 67.57L592.50 67.97L593.00 68.50L593.50 69.15L594.00 69.89L594.50 70.70L595.00 71.54L595.50 72.39L596.00 73.21L596.50 73.99L597.00 74.70L597.50 75.32L598.00 75.84L598.50 76.24L599.00 76.51L599.50 76.65L600.00 76.65L600.50 76.51L601.00 76.24L601.50 75.83L602.00 75.29L602.50 74.63L603.00 73.84L603.50 72.94L604.00 71.95L604.50 70.86L605.00 69.69L605.50 68.45L606.00 67.16L606.50 65.85L607.00 64.51L607.50 63.19L608.00 61.89L608.50 60.65L609.00 59.48L609.50 58.40L610.00 57.44L610.50 56.61L611.00 55.93L611.50 55.42L612.00 55.08L612.50 54.93L613.00 54.96L613.50 55.18L614.00 55.58L614.50 56.15L615.00 56.88L615.50 57.75L616.00 58.76L616.50 59.87L617.00 61.07L617.50 62.34L618.00 63.66L618.50 65.00L619.00 66.34L619.50 67.67L620.00 68.96L620.50 70.22L621.00 71.41L621.50 72.54L622.00 73.59L622.50 74.56L623.00 75.45L623.50 76.26L624.00 76.98L624.50 77.63L625.00 78.19L625.50 78.69L626.00 79.12L626.50 79.48L627.00 79.79L627.50 80.05L628.00 80.27L628.50 80.44L629.00 80.58L629.50 80.69L630.00 80.77L630.50 80.82L631.00 80.85L631.50 80.85L632.00 80.84L632.50 80.80L633.00 80.75L633.50 80.67L634.00 80.58L634.50 80.46L635.00 80.32L635.50 80.16L636.00 79.98L636.50 79.78L637.00 79.55L637.50 79.30L638.00 79.03L638.50 78.74L639.00 78.43L639.50 78.11L640.00 77.78L640.50 77.45L641.00 77.12L641.50 76.79L642.00 76.47L642.50 76.17L643.00 75.89L643.50 75.64L644.00 75.42L644.50 75.25L645.00 75.11L645.50 75.02L646.00 74.97L646.50 74.97L647.00 75.02L647.50 75.11L648.00 75.25L648.50 75.42L649.00 75.61L649.50 75.83L650.00 76.07L650.50 76.31L651.00 76.55L651.50 76.77L652.00 76.97L652.50 77.14L653.00 77.26L653.50 77.34L654.00 77.37L654.50 77.34L655.00 77.26L655.50 77.12L656.00 76.94L656.50 76.73L657.00 76.49L657.50 76.24L658.00 76.00L658.50 75.78L659.00 75.59L659.50 75.46L660.00 75.39L660.50 75.39L661.00 75.47L661.50 75.62L662.00 75.85L662.50 76.14L663.00 76.48L663.50 76.87L664.00 77.29L664.50 77.72L665.00 78.15L665.50 78.57L666.00 78.96L666.50 79.33L667.00 79.66L667.50 79.96L668.00 80.22L668.50 80.43L669.00 80.62L669.50 80.76L670.00 80.88L670.50 80.98L671.00 81.05L671.50 81.11L672.00 81.15L672.50 81.18L673.00 81.20L673.50 81.21L674.00 81.23L674.50 81.23L675.00 81.24L675.20 81.24" fill="none" stroke="#aa3442" stroke-width="1.85" stroke-linejoin="round" stroke-linecap="square"/>
<path d="M496.10 61.85L496.60 61.77L497.10 61.66L497.60 61.52L498.10 61.33L498.60 61.10L499.10 60.80L499.60 60.42L500.10 59.96L500.60 59.40L501.10 58.73L501.60 57.94L502.10 57.02L502.60 55.96L503.10 54.77L503.60 53.43L504.10 51.97L504.60 50.40L505.10 48.73L505.60 46.99L506.10 45.21L506.60 43.45L507.10 41.72L507.60 40.09L508.10 38.59L508.60 37.28L509.10 36.18L509.60 35.34L510.10 34.79L510.60 34.54L511.10 34.59L511.60 34.96L512.10 35.62L512.60 36.56L513.10 37.74L513.60 39.13L514.10 40.68L514.60 42.35L515.10 44.09L515.60 45.87L516.10 47.63L516.60 49.35L517.10 50.99L517.60 52.52L518.10 53.94L518.60 55.22L519.10 56.36L519.60 57.36L520.10 58.23L520.60 58.97L521.10 59.58L521.60 60.09L522.10 60.49L522.60 60.81L523.10 61.04L523.60 61.21L524.10 61.31L524.60 61.35L525.10 61.34L525.60 61.27L526.10 61.16L526.60 60.99L527.10 60.77L527.60 60.50L528.10 60.18L528.60 59.81L529.10 59.39L529.60 58.92L530.10 58.42L530.60 57.88L531.10 57.31L531.60 56.74L532.10 56.16L532.60 55.61L533.10 55.08L533.60 54.61L534.10 54.19L534.60 53.86L535.10 53.61L535.60 53.46L536.10 53.42L536.60 53.47L537.10 53.63L537.60 53.89L538.10 54.24L538.60 54.66L539.10 55.14L539.60 55.67L540.10 56.23L540.60 56.81L541.10 57.38L541.60 57.94L542.10 58.48L542.60 58.99L543.10 59.46L543.60 59.88L544.10 60.25L544.60 60.58L545.10 60.87L545.60 61.11L546.10 61.31L546.60 61.48L547.10 61.61L547.60 61.72L548.10 61.80L548.60 61.87L549.10 61.92L549.60 61.95L550.10 61.97L550.60 61.99L551.10 61.99L551.60 61.99L552.10 61.98L552.60 61.95L553.10 61.92L553.60 61.87L554.10 61.81L554.60 61.72L555.10 61.61L555.60 61.48L556.10 61.31L556.60 61.11L557.10 60.87L557.60 60.58L558.10 60.25L558.60 59.87L559.10 59.44L559.60 58.97L560.10 58.47L560.60 57.93L561.10 57.37L561.60 56.80L562.10 56.24L562.60 55.70L563.10 55.19L563.60 54.74L564.10 54.35L564.60 54.05L565.10 53.83L565.60 53.72L566.10 53.71L566.60 53.81L567.10 54.00L567.60 54.29L568.10 54.66L568.60 55.11L569.10 55.60L569.60 56.14L570.10 56.70L570.60 57.27L571.10 57.83L571.60 58.37L572.10 58.89L572.60 59.36L573.10 59.79L573.60 60.18L574.10 60.52L574.60 60.82L575.10 61.06L575.60 61.27L576.10 61.44L576.60 61.58L577.10 61.68L577.60 61.75L578.10 61.80L578.60 61.82L579.10 61.82L579.60 61.79L580.10 61.73L580.60 61.63L581.10 61.50L581.60 61.31L582.10 61.07L582.60 60.76L583.10 60.37L583.60 59.90L584.10 59.33L584.60 58.65L585.10 57.87L585.60 56.99L586.10 56.01L586.60 54.94L587.10 53.80L587.60 52.62L588.10 51.42L588.60 50.23L589.10 49.11L589.60 48.07L590.10 47.17L590.60 46.44L591.10 45.90L591.60 45.59L592.10 45.50L592.60 45.65L593.10 46.03L593.60 46.63L594.10 47.41L594.60 48.35L595.10 49.41L595.60 50.54L596.10 51.72L596.60 52.90L597.10 54.04L597.60 55.12L598.10 56.11L598.60 56.98L599.10 57.72L599.60 58.32L600.10 58.76L600.60 59.05L601.10 59.17L601.60 59.13L602.10 58.90L602.60 58.50L603.10 57.92L603.60 57.14L604.10 56.17L604.60 55.01L605.10 53.67L605.60 52.14L606.10 50.45L606.60 48.62L607.10 46.68L607.60 44.67L608.10 42.63L608.60 40.62L609.10 38.68L609.60 36.89L610.10 35.29L610.60 33.94L611.10 32.88L611.60 32.15L612.10 31.77L612.60 31.75L613.10 32.09L613.60 32.77L614.10 33.75L614.60 34.98L615.10 36.40L615.60 37.96L616.10 39.59L616.60 41.22L617.10 42.78L617.60 44.25L618.10 45.56L618.60 46.71L619.10 47.69L619.60 48.51L620.10 49.19L620.60 49.77L621.10 50.28L621.60 50.77L622.10 51.26L622.60 51.81L623.10 52.41L623.60 53.08L624.10 53.82L624.60 54.61L625.10 55.42L625.60 56.24L626.10 57.02L626.60 57.76L627.10 58.42L627.60 58.98L628.10 59.45L628.60 59.81L629.10 60.07L629.60 60.24L630.10 60.32L630.60 60.32L631.10 60.26L631.60 60.14L632.10 59.97L632.60 59.76L633.10 59.52L633.60 59.26L634.10 58.98L634.60 58.68L635.10 58.37L635.60 58.05L636.10 57.74L636.60 57.42L637.10 57.12L637.60 56.82L638.10 56.55L638.60 56.29L639.10 56.06L639.60 55.86L640.10 55.69L640.60 55.56L641.10 55.47L641.60 55.42L642.10 55.40L642.60 55.43L643.10 55.50L643.60 55.61L644.10 55.75L644.60 55.93L645.10 56.14L645.60 56.37L646.10 56.62L646.60 56.88L647.10 57.15L647.60 57.42L648.10 57.68L648.60 57.93L649.10 58.16L649.60 58.36L650.10 58.52L650.60 58.65L651.10 58.73L651.60 58.76L652.10 58.73L652.60 58.65L653.10 58.52L653.60 58.33L654.10 58.09L654.60 57.80L655.10 57.49L655.60 57.14L656.10 56.79L656.60 56.44L657.10 56.10L657.60 55.79L658.10 55.52L658.60 55.31L659.10 55.16L659.60 55.08L660.10 55.09L660.60 55.17L661.10 55.33L661.60 55.56L662.10 55.86L662.60 56.22L663.10 56.62L663.60 57.05L664.10 57.51L664.60 57.97L665.10 58.44L665.60 58.88L666.10 59.31L666.60 59.71L667.10 60.08L667.60 60.41L668.10 60.70L668.60 60.95L669.10 61.17L669.60 61.35L670.10 61.51L670.60 61.63L671.10 61.73L671.60 61.81L672.10 61.88L672.30 61.90" fill="none" stroke="#d83c4e" stroke-width="1.85" stroke-linejoin="round" stroke-linecap="square"/>
<rect x="479.70" y="20.50" width="204.60" height="249.20" fill="none" stroke="#262626" stroke-width="1.11"/>
<line x1="488.80" y1="269.70" x2="488.80" y2="274.56" stroke="#262626" stroke-width="1.11"/>
<line x1="549.30" y1="269.70" x2="549.30" y2="274.56" stroke="#262626" stroke-width="1.11"/>
<line x1="609.80" y1="269.70" x2="609.80" y2="274.56" stroke="#262626" stroke-width="1.11"/>
<line x1="670.30" y1="269.70" x2="670.30" y2="274.56" stroke="#262626" stroke-width="1.11"/>
<line x1="474.84" y1="265.20" x2="479.70" y2="265.20" stroke="#262626" stroke-width="1.11"/>
<line x1="474.84" y1="212.75" x2="479.70" y2="212.75" stroke="#262626" stroke-width="1.11"/>
<line x1="474.84" y1="160.30" x2="479.70" y2="160.30" stroke="#262626" stroke-width="1.11"/>
<line x1="474.84" y1="107.85" x2="479.70" y2="107.85" stroke="#262626" stroke-width="1.11"/>
<line x1="474.84" y1="55.40" x2="479.70" y2="55.40" stroke="#262626" stroke-width="1.11"/>
<text x="41.600" y="270.950" font-size="16.000" font-family="'Liberation Serif', serif" text-anchor="end" textLength="21.095" lengthAdjust="spacingAndGlyphs" fill="#262626">0.0</text>
<text x="41.600" y="219.950" font-size="16.000" font-family="'Liberation Serif', serif" text-anchor="end" textLength="21.095" lengthAdjust="spacingAndGlyphs" fill="#262626">0.5</text>
<text x="42.000" y="168.950" font-size="16.000" font-family="'Liberation Serif', serif" text-anchor="end" textLength="22.993" lengthAdjust="spacingAndGlyphs" fill="#262626">1.0</text>
<text x="42.000" y="118.950" font-size="16.000" font-family="'Liberation Serif', serif" text-anchor="end" textLength="22.993" lengthAdjust="spacingAndGlyphs" fill="#262626">1.5</text>
<text x="42.100" y="67.950" font-size="16.000" font-family="'Liberation Serif', serif" text-anchor="end" textLength="22.100" lengthAdjust="spacingAndGlyphs" fill="#262626">2.0</text>
<text x="92.600" y="288.200" font-size="16.000" font-family="'Liberation Serif', serif" text-anchor="middle" textLength="8.256" lengthAdjust="spacingAndGlyphs" fill="#262626">4</text>
<text x="143.400" y="288.200" font-size="16.000" font-family="'Liberation Serif', serif" text-anchor="middle" textLength="8.840" lengthAdjust="spacingAndGlyphs" fill="#262626">6</text>
<text x="194.800" y="288.200" font-size="16.000" font-family="'Liberation Serif', serif" text-anchor="middle" textLength="8.840" lengthAdjust="spacingAndGlyphs" fill="#262626">8</text>
<text x="245.600" y="288.200" font-size="16.000" font-family="'Liberation Serif', serif" text-anchor="middle" textLength="19.052" lengthAdjust="spacingAndGlyphs" fill="#262626">10</text>
<text x="265.100" y="288.200" font-size="16.000" font-family="'Liberation Serif', serif" text-anchor="middle" textLength="20.855" lengthAdjust="spacingAndGlyphs" fill="#262626">2.5</text>
<text x="327.600" y="288.200" font-size="16.000" font-family="'Liberation Serif', serif" text-anchor="middle" textLength="21.898" lengthAdjust="spacingAndGlyphs" fill="#262626">5.0</text>
<text x="390.100" y="288.200" font-size="16.000" font-family="'Liberation Serif', serif" text-anchor="middle" textLength="21.471" lengthAdjust="spacingAndGlyphs" fill="#262626">7.5</text>
<text x="451.700" y="288.200" font-size="16.000" font-family="'Liberation Serif', serif" text-anchor="middle" textLength="31.113" lengthAdjust="spacingAndGlyphs" fill="#262626">10.0</text>
<text x="488.800" y="288.200" font-size="16.000" font-family="'Liberation Serif', serif" text-anchor="middle" textLength="20.855" lengthAdjust="spacingAndGlyphs" fill="#262626">2.5</text>
<text x="549.300" y="288.200" font-size="16.000" font-family="'Liberation Serif', serif" text-anchor="middle" textLength="20.855" lengthAdjust="spacingAndGlyphs" fill="#262626">5.0</text>
<text x="609.800" y="288.200" font-size="16.000" font-family="'Liberation Serif', serif" text-anchor="middle" textLength="20.495" lengthAdjust="spacingAndGlyphs" fill="#262626">7.5</text>
<text x="670.300" y="288.200" font-size="16.000" font-family="'Liberation Serif', serif" text-anchor="middle" textLength="31.113" lengthAdjust="spacingAndGlyphs" fill="#262626">10.0</text>
<text x="148.800" y="306.800" font-size="16.000" font-family="'Liberation Serif', serif" text-anchor="middle" textLength="130.523" lengthAdjust="spacingAndGlyphs" fill="#262626">Ta-Ta Distance (Å)</text>
<text x="364.000" y="306.800" font-size="16.000" font-family="'Liberation Serif', serif" text-anchor="middle" textLength="130.811" lengthAdjust="spacingAndGlyphs" fill="#262626">Ta-Ta Distance (Å)</text>
<text x="582.100" y="306.800" font-size="16.000" font-family="'Liberation Serif', serif" text-anchor="middle" textLength="130.610" lengthAdjust="spacingAndGlyphs" fill="#262626">Ta-Ta Distance (Å)</text>
<text x="106.900" y="12.100" font-size="17.000" font-family="'Liberation Serif', serif" text-anchor="start" textLength="30.036" lengthAdjust="spacingAndGlyphs" fill="#262626">TaS</text>
<text x="137.350" y="14.800" font-size="11.000" font-family="'Liberation Sans', sans-serif" text-anchor="start" textLength="6.173" lengthAdjust="spacingAndGlyphs" fill="#262626">2</text>
<text x="158.150" y="13.950" font-size="11.000" font-family="'Liberation Sans', sans-serif" text-anchor="start" textLength="5.953" lengthAdjust="spacingAndGlyphs" font-style="italic" fill="#262626">δ</text>
<text x="164.650" y="12.100" font-size="17.000" font-family="'Liberation Serif', serif" text-anchor="start" textLength="19.857" lengthAdjust="spacingAndGlyphs" fill="#262626">Se</text>
<text x="184.600" y="13.950" font-size="11.000" font-family="'Liberation Sans', sans-serif" text-anchor="start" textLength="6.242" lengthAdjust="spacingAndGlyphs" font-style="italic" fill="#262626">δ</text>
<text x="316.800" y="12.100" font-size="17.000" font-family="'Liberation Serif', serif" text-anchor="start" textLength="40.026" lengthAdjust="spacingAndGlyphs" fill="#262626">TaSe</text>
<text x="357.000" y="14.800" font-size="11.000" font-family="'Liberation Sans', sans-serif" text-anchor="start" textLength="5.854" lengthAdjust="spacingAndGlyphs" fill="#262626">2</text>
<text x="377.200" y="13.950" font-size="11.000" font-family="'Liberation Sans', sans-serif" text-anchor="start" textLength="6.171" lengthAdjust="spacingAndGlyphs" font-style="italic" fill="#262626">δ</text>
<text x="384.750" y="12.100" font-size="17.000" font-family="'Liberation Serif', serif" text-anchor="start" textLength="18.302" lengthAdjust="spacingAndGlyphs" fill="#262626">Te</text>
<text x="403.800" y="13.950" font-size="11.000" font-family="'Liberation Sans', sans-serif" text-anchor="start" textLength="6.171" lengthAdjust="spacingAndGlyphs" font-style="italic" fill="#262626">δ</text>
<text x="539.450" y="12.100" font-size="17.000" font-family="'Liberation Serif', serif" text-anchor="start" textLength="30.978" lengthAdjust="spacingAndGlyphs" fill="#262626">TaS</text>
<text x="570.550" y="14.800" font-size="11.000" font-family="'Liberation Sans', sans-serif" text-anchor="start" textLength="5.955" lengthAdjust="spacingAndGlyphs" fill="#262626">2</text>
<text x="590.750" y="13.950" font-size="11.000" font-family="'Liberation Sans', sans-serif" text-anchor="start" textLength="6.305" lengthAdjust="spacingAndGlyphs" font-style="italic" fill="#262626">δ</text>
<text x="597.650" y="12.100" font-size="17.000" font-family="'Liberation Serif', serif" text-anchor="start" textLength="19.542" lengthAdjust="spacingAndGlyphs" fill="#262626">Te</text>
<text x="617.800" y="13.950" font-size="11.000" font-family="'Liberation Sans', sans-serif" text-anchor="start" textLength="6.242" lengthAdjust="spacingAndGlyphs" font-style="italic" fill="#262626">δ</text>
<rect x="147.40" y="10.75" width="7.10" height="1.0" fill="#262626"/>
<rect x="366.80" y="10.75" width="6.80" height="1.0" fill="#262626"/>
<rect x="580.70" y="10.75" width="6.80" height="1.0" fill="#262626"/>
<text transform="translate(13.9 145.2) rotate(-90)" font-size="17.5" font-family="Liberation Sans, sans-serif" font-style="italic" text-anchor="middle" fill="#262626">δ</text>
</svg>
</body></html>
